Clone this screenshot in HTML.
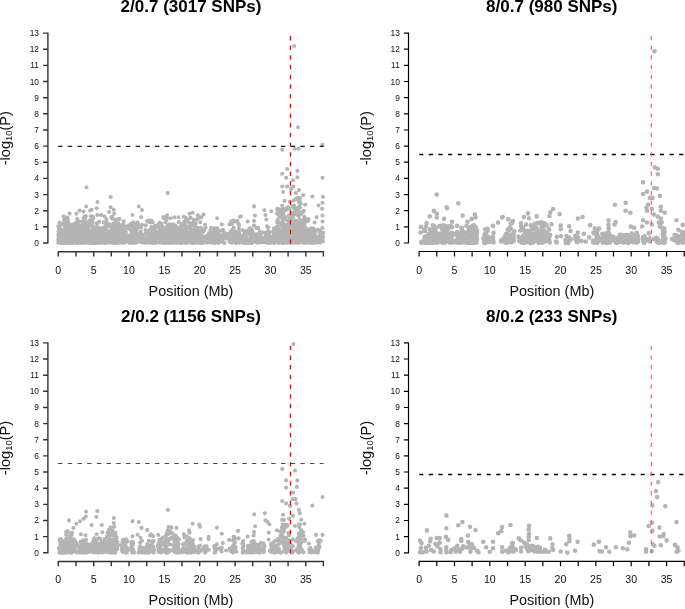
<!DOCTYPE html>
<html lang="en"><head><meta charset="utf-8"><title>Manhattan plots</title>
<style>
html,body{margin:0;padding:0;background:#fff}
body{width:685px;height:609px;overflow:hidden}
svg{display:block;will-change:transform}
text{font-family:"Liberation Sans",Arial,Helvetica,sans-serif;fill:#111}
.t{font-size:17px;font-weight:bold;text-anchor:middle;fill:#000}
.xl{font-size:10.6px;text-anchor:middle}
.yl{font-size:8.4px;text-anchor:end}
.al{font-size:14.4px;text-anchor:middle}
.ax{stroke:#333;stroke-width:1.4;fill:none}
.pt{stroke:#b4b4b4;stroke-width:4.1;stroke-linecap:round;fill:none}
</style></head><body>
<svg width="685" height="609" viewBox="0 0 685 609">
<rect width="685" height="609" fill="#fff"/>
<g transform="translate(0.0,0.0)">
<text class="t" x="191" y="12">2/0.7 (3017 SNPs)</text>
<path class="pt" d="M86.7 238.2h0M85.3 239.3h0M86.2 239.8h0M107.5 234.6h0M63.7 242.9h0M63.6 242.7h0M63.1 230.0h0M62.8 238.5h0M64.4 233.0h0M60.3 237.3h0M60.7 239.9h0M87.8 237.5h0M88.1 243.0h0M91.8 241.8h0M88.5 232.7h0M75.1 241.1h0M80.9 241.8h0M84.2 232.0h0M83.5 242.9h0M82.1 236.5h0M83.8 241.2h0M83.2 233.8h0M65.1 228.0h0M63.3 233.2h0M64.6 238.9h0M85.0 240.8h0M67.0 232.1h0M66.9 233.8h0M67.9 234.7h0M66.0 242.1h0M71.9 226.9h0M70.1 242.9h0M71.4 234.5h0M62.0 239.2h0M72.4 242.7h0M73.8 237.9h0M71.4 231.1h0M66.8 241.6h0M67.7 240.9h0M68.3 242.6h0M68.4 242.1h0M69.8 239.5h0M67.3 220.2h0M67.9 242.7h0M67.8 233.5h0M109.8 234.4h0M109.0 224.2h0M109.7 232.6h0M91.7 242.4h0M91.8 231.8h0M93.0 237.3h0M92.4 223.3h0M92.7 239.1h0M93.1 228.8h0M81.7 240.4h0M80.2 239.2h0M80.5 242.3h0M80.5 240.5h0M80.5 239.8h0M80.3 237.9h0M80.2 243.0h0M62.1 240.9h0M64.1 240.5h0M62.0 241.4h0M113.2 242.0h0M112.1 236.9h0M105.2 236.3h0M105.8 239.2h0M106.1 239.9h0M106.1 243.0h0M107.4 236.4h0M105.3 240.8h0M93.8 241.0h0M93.3 218.4h0M95.0 238.1h0M96.3 239.6h0M115.0 240.3h0M70.7 242.3h0M99.1 240.1h0M97.9 231.7h0M86.1 236.3h0M83.5 239.2h0M84.3 238.1h0M85.0 241.8h0M85.3 242.6h0M74.0 237.4h0M73.9 238.1h0M78.1 242.9h0M77.1 218.7h0M77.6 242.0h0M78.9 239.1h0M77.8 234.8h0M77.5 229.0h0M85.8 241.7h0M74.0 237.3h0M97.0 241.5h0M98.0 231.7h0M96.2 237.8h0M96.7 237.7h0M101.8 233.9h0M78.1 241.0h0M79.2 236.5h0M79.8 225.9h0M77.4 242.5h0M101.0 242.3h0M81.6 242.1h0M81.9 237.6h0M79.1 240.0h0M71.3 240.7h0M69.6 232.2h0M72.8 242.8h0M69.2 238.6h0M107.9 235.6h0M105.4 225.5h0M85.2 218.0h0M84.1 241.5h0M86.6 230.7h0M79.3 229.2h0M79.3 240.7h0M79.6 241.8h0M77.8 238.0h0M76.6 242.6h0M62.8 240.8h0M97.0 241.8h0M96.4 236.2h0M96.9 241.8h0M114.5 238.5h0M91.2 238.6h0M91.3 238.4h0M89.3 236.6h0M89.3 238.0h0M99.2 238.7h0M84.1 237.8h0M83.1 228.5h0M81.9 242.3h0M84.1 237.8h0M83.2 239.6h0M84.0 242.5h0M84.6 216.5h0M84.6 231.5h0M83.7 235.1h0M84.8 235.7h0M95.9 238.3h0M73.1 238.6h0M83.9 230.1h0M85.4 231.9h0M94.9 239.6h0M96.4 241.9h0M96.8 241.5h0M98.2 242.3h0M78.1 243.0h0M77.2 242.2h0M66.3 226.6h0M108.2 241.3h0M109.6 240.3h0M60.0 240.3h0M114.5 241.1h0M114.4 238.2h0M113.5 224.4h0M113.2 227.3h0M114.8 238.3h0M114.0 239.0h0M114.1 231.8h0M114.2 241.8h0M115.8 226.5h0M113.6 223.5h0M114.7 241.1h0M77.9 238.3h0M77.0 240.5h0M110.2 237.5h0M103.4 238.3h0M103.8 242.2h0M107.9 236.7h0M106.1 239.4h0M104.4 241.5h0M107.0 233.5h0M114.0 236.7h0M112.0 242.2h0M114.7 241.1h0M112.7 241.1h0M112.5 224.4h0M79.9 235.7h0M78.2 232.8h0M114.8 235.4h0M115.1 238.6h0M114.7 236.4h0M117.1 240.5h0M104.6 216.5h0M103.5 233.5h0M103.6 236.6h0M105.2 236.1h0M104.8 226.7h0M104.6 238.8h0M106.6 238.2h0M105.8 243.0h0M104.4 239.8h0M104.7 239.4h0M104.3 241.1h0M106.7 230.1h0M87.6 238.1h0M96.4 238.5h0M94.3 234.2h0M94.0 234.2h0M100.9 233.1h0M102.4 241.0h0M82.2 241.0h0M84.6 242.6h0M82.9 224.7h0M82.8 237.8h0M81.5 242.8h0M82.1 242.5h0M83.1 240.7h0M87.3 227.8h0M85.6 239.7h0M86.2 222.3h0M86.9 238.5h0M87.5 240.2h0M87.5 237.5h0M86.7 236.9h0M88.0 241.2h0M83.6 242.7h0M86.2 240.8h0M86.8 242.2h0M87.2 241.3h0M96.1 239.0h0M97.7 239.3h0M97.1 242.9h0M97.4 242.4h0M97.0 223.4h0M96.6 233.8h0M95.6 227.0h0M91.8 225.8h0M98.8 237.8h0M98.8 232.1h0M98.6 241.8h0M64.1 241.5h0M96.4 233.5h0M97.2 241.5h0M95.3 242.9h0M97.2 235.1h0M94.8 242.4h0M83.8 226.6h0M84.6 225.5h0M92.3 240.3h0M92.1 224.9h0M72.8 225.4h0M70.8 240.4h0M72.7 234.1h0M71.8 240.8h0M81.3 240.6h0M94.8 237.2h0M92.2 241.5h0M92.6 236.6h0M93.7 242.5h0M93.5 235.9h0M92.5 235.9h0M92.3 236.4h0M93.6 231.5h0M90.9 239.0h0M92.1 230.8h0M92.7 234.1h0M90.7 216.3h0M91.4 239.0h0M116.9 241.5h0M118.1 241.3h0M117.5 225.6h0M118.4 242.3h0M64.2 229.4h0M63.4 233.1h0M62.1 232.4h0M63.6 241.1h0M81.2 242.8h0M81.8 238.6h0M101.2 242.4h0M100.7 240.2h0M103.1 241.9h0M102.7 242.2h0M114.9 238.5h0M116.1 236.9h0M114.9 236.9h0M117.5 242.9h0M82.3 231.9h0M84.5 234.8h0M84.1 227.8h0M97.8 237.5h0M98.0 239.2h0M97.9 227.4h0M97.6 231.1h0M97.8 240.7h0M95.1 231.2h0M75.4 238.8h0M107.2 233.6h0M109.5 235.5h0M90.3 237.9h0M91.6 242.6h0M91.9 241.4h0M90.7 238.4h0M92.3 233.9h0M92.9 232.9h0M91.5 237.7h0M90.4 240.6h0M92.8 239.5h0M91.9 235.0h0M74.5 238.4h0M72.2 233.7h0M71.9 238.6h0M75.0 241.6h0M75.4 241.8h0M74.2 233.8h0M73.7 240.7h0M62.0 239.3h0M64.7 241.9h0M75.0 226.2h0M77.8 241.7h0M77.1 238.5h0M77.9 230.0h0M77.2 234.8h0M62.2 237.7h0M62.7 240.4h0M63.9 237.6h0M66.4 240.0h0M58.7 240.6h0M59.1 237.5h0M60.1 241.4h0M59.3 234.3h0M60.2 236.1h0M58.3 235.4h0M58.7 236.4h0M58.6 231.7h0M58.3 240.8h0M58.3 239.0h0M60.9 240.7h0M58.3 226.3h0M60.4 229.3h0M60.1 240.6h0M59.7 231.0h0M58.3 239.3h0M59.9 226.1h0M72.7 224.6h0M114.9 238.3h0M113.3 241.6h0M80.5 236.8h0M82.7 240.5h0M118.1 240.1h0M117.9 235.2h0M117.9 235.5h0M117.8 236.2h0M117.7 238.3h0M105.8 241.1h0M105.9 242.3h0M105.4 238.1h0M106.0 229.3h0M105.6 238.4h0M103.6 240.7h0M110.3 231.6h0M62.9 239.1h0M101.5 237.6h0M100.3 228.4h0M118.4 238.9h0M91.7 242.3h0M118.2 241.6h0M118.3 234.3h0M119.2 239.1h0M118.2 241.7h0M119.1 225.0h0M119.5 218.9h0M70.5 234.7h0M68.7 240.2h0M69.2 239.3h0M68.4 241.5h0M69.9 237.7h0M69.3 229.4h0M68.3 230.7h0M70.0 238.4h0M69.1 235.3h0M70.4 239.9h0M70.6 229.4h0M69.6 242.7h0M68.4 236.8h0M68.6 239.7h0M100.2 243.0h0M99.2 241.8h0M100.8 237.1h0M99.5 239.0h0M101.1 238.5h0M84.0 235.0h0M86.0 242.3h0M85.1 240.8h0M83.3 234.7h0M83.7 239.3h0M85.0 237.4h0M84.8 238.2h0M84.3 240.4h0M90.5 234.7h0M84.2 242.8h0M99.6 236.9h0M99.0 241.0h0M98.2 239.0h0M99.1 241.4h0M98.5 228.3h0M96.6 233.1h0M98.2 234.5h0M79.4 236.5h0M78.9 221.4h0M81.9 234.7h0M80.4 238.1h0M114.5 234.4h0M115.2 242.4h0M115.6 241.8h0M114.7 235.7h0M114.5 242.1h0M115.2 243.0h0M115.5 231.4h0M116.3 242.1h0M115.5 240.8h0M115.2 234.9h0M116.6 240.6h0M114.0 228.9h0M100.3 232.5h0M100.7 234.7h0M100.5 231.0h0M100.0 232.9h0M99.8 236.1h0M99.2 240.1h0M101.5 232.7h0M99.8 234.6h0M101.8 234.0h0M96.6 242.9h0M84.8 239.4h0M85.0 234.2h0M85.1 225.9h0M77.3 233.2h0M75.4 231.2h0M76.8 242.2h0M75.9 237.6h0M75.6 241.0h0M81.1 238.9h0M81.7 239.9h0M80.8 241.3h0M82.7 238.4h0M79.9 240.3h0M81.6 238.4h0M82.2 241.3h0M81.5 230.4h0M93.8 241.3h0M107.0 238.0h0M71.5 239.4h0M71.8 240.6h0M70.1 231.0h0M66.7 238.1h0M84.6 224.6h0M86.4 242.3h0M93.1 229.5h0M92.2 234.8h0M93.7 239.7h0M90.5 239.3h0M64.0 230.1h0M64.3 240.4h0M64.5 223.4h0M62.3 236.8h0M63.3 242.8h0M64.2 220.8h0M88.6 237.5h0M88.0 240.9h0M88.7 242.2h0M88.2 229.3h0M87.5 237.0h0M63.4 243.0h0M104.8 238.8h0M105.4 233.0h0M102.6 235.9h0M105.2 235.4h0M118.9 240.0h0M118.2 223.1h0M117.2 242.0h0M95.4 237.6h0M92.8 236.2h0M95.3 241.3h0M94.4 231.1h0M95.0 238.8h0M94.5 232.2h0M94.7 237.7h0M78.4 242.0h0M77.0 231.9h0M81.3 233.9h0M58.6 233.6h0M82.0 235.9h0M81.5 229.9h0M83.0 241.1h0M81.9 240.7h0M82.3 235.1h0M82.1 236.3h0M83.8 235.1h0M83.1 241.2h0M89.3 220.6h0M67.9 218.8h0M67.1 238.7h0M68.4 229.0h0M101.1 229.6h0M69.4 240.6h0M83.4 234.4h0M82.5 235.5h0M72.7 239.0h0M107.7 234.5h0M106.5 232.3h0M105.7 240.4h0M106.3 242.0h0M105.5 232.8h0M107.2 237.0h0M107.2 236.4h0M108.3 235.2h0M107.8 238.1h0M107.4 236.6h0M108.0 237.8h0M108.2 233.0h0M65.1 237.0h0M64.7 240.5h0M92.9 216.6h0M91.3 223.6h0M92.5 236.6h0M92.9 239.3h0M87.2 233.4h0M87.7 242.2h0M92.8 240.2h0M67.9 235.9h0M68.1 239.1h0M114.7 236.8h0M114.7 236.8h0M115.3 242.1h0M117.3 236.2h0M115.8 229.0h0M89.0 235.8h0M89.6 231.4h0M72.1 232.8h0M73.3 236.5h0M72.2 233.0h0M70.9 238.8h0M96.3 241.7h0M97.1 235.6h0M96.1 242.2h0M76.9 242.7h0M76.0 241.6h0M78.0 238.0h0M78.4 239.0h0M80.8 232.9h0M79.6 233.3h0M77.6 223.6h0M62.4 240.5h0M65.3 230.3h0M64.1 242.0h0M111.2 241.4h0M83.2 233.3h0M82.0 235.3h0M81.4 241.1h0M83.1 239.0h0M82.4 239.7h0M84.7 228.4h0M82.4 236.2h0M83.5 231.2h0M58.6 242.6h0M59.6 240.4h0M59.0 236.9h0M99.2 221.8h0M95.6 240.6h0M65.2 243.0h0M67.1 217.5h0M64.6 236.1h0M76.8 241.8h0M76.9 239.6h0M78.0 241.1h0M78.0 240.4h0M77.0 238.8h0M107.2 242.5h0M74.0 228.2h0M73.5 239.0h0M73.7 229.4h0M96.5 235.9h0M75.1 223.8h0M113.1 237.9h0M112.9 243.0h0M69.6 241.5h0M70.7 236.5h0M71.7 240.1h0M71.0 239.7h0M70.2 242.0h0M72.7 243.0h0M69.0 240.7h0M69.6 230.5h0M64.5 234.8h0M90.8 232.1h0M115.0 241.4h0M102.7 241.5h0M103.8 242.9h0M63.0 236.6h0M64.2 242.3h0M63.8 216.7h0M63.8 236.4h0M64.1 236.0h0M63.5 235.9h0M63.0 239.8h0M64.0 242.3h0M65.0 235.0h0M65.1 240.9h0M71.6 238.8h0M70.9 227.2h0M70.6 229.4h0M70.6 238.2h0M71.9 236.6h0M78.4 242.1h0M77.7 235.0h0M77.9 242.9h0M84.0 232.4h0M83.2 230.9h0M85.2 233.9h0M83.5 235.1h0M82.4 231.1h0M82.7 229.6h0M86.6 239.8h0M83.5 232.1h0M85.4 239.6h0M85.8 239.7h0M87.8 227.8h0M89.7 237.4h0M87.8 240.1h0M84.0 239.1h0M85.0 238.3h0M59.1 239.4h0M60.7 242.5h0M60.9 242.9h0M104.0 240.9h0M104.1 242.0h0M65.9 238.0h0M66.2 240.0h0M67.8 242.5h0M66.8 238.3h0M64.6 243.0h0M67.7 240.6h0M66.7 233.3h0M66.4 238.6h0M65.1 242.0h0M66.3 239.9h0M66.7 224.7h0M64.5 238.0h0M65.5 233.0h0M66.6 241.2h0M90.0 241.4h0M92.2 226.9h0M92.4 219.8h0M90.7 241.7h0M93.2 228.0h0M92.1 241.9h0M92.5 239.6h0M92.0 242.9h0M70.7 242.1h0M70.8 240.2h0M70.3 237.1h0M58.7 234.0h0M60.4 239.5h0M101.5 237.7h0M67.2 242.6h0M96.4 240.4h0M98.2 240.9h0M79.8 239.8h0M80.5 237.0h0M107.1 242.6h0M108.5 235.6h0M100.4 242.0h0M75.4 240.3h0M73.7 236.4h0M76.3 240.9h0M74.9 223.7h0M75.1 236.9h0M75.5 242.7h0M77.1 240.2h0M76.1 228.8h0M77.1 242.2h0M76.1 235.5h0M109.1 239.3h0M107.8 242.2h0M108.1 226.0h0M107.6 240.7h0M108.9 240.2h0M107.1 242.6h0M61.3 237.7h0M59.0 234.9h0M60.5 240.2h0M58.3 242.8h0M117.2 241.7h0M117.8 243.0h0M61.2 236.6h0M62.0 242.9h0M70.5 229.4h0M69.8 225.6h0M69.4 239.7h0M68.4 241.5h0M67.7 240.8h0M68.5 237.7h0M58.8 242.6h0M59.4 235.7h0M59.1 238.6h0M58.8 241.3h0M59.2 234.6h0M58.8 239.0h0M66.2 238.3h0M76.2 222.6h0M77.1 232.3h0M75.1 237.5h0M76.5 241.9h0M77.6 229.9h0M118.4 236.7h0M115.9 242.7h0M116.1 236.8h0M59.6 240.6h0M66.5 218.1h0M68.4 242.8h0M68.3 239.9h0M109.5 233.6h0M65.3 235.2h0M63.8 242.2h0M65.2 242.6h0M64.1 242.3h0M64.6 236.5h0M64.6 233.5h0M66.5 236.0h0M64.1 235.8h0M84.9 221.9h0M84.6 238.5h0M91.3 232.5h0M92.3 234.9h0M88.2 241.0h0M85.9 239.3h0M118.0 239.4h0M116.2 239.5h0M94.7 238.1h0M92.6 222.4h0M63.8 233.8h0M107.3 234.2h0M106.0 240.3h0M63.9 235.0h0M62.8 241.6h0M63.8 222.9h0M62.2 241.1h0M64.7 238.8h0M63.9 242.5h0M63.4 242.5h0M63.3 241.0h0M63.4 240.9h0M63.4 236.9h0M62.4 242.4h0M61.1 224.8h0M63.7 241.0h0M80.3 237.2h0M81.9 240.8h0M63.2 241.7h0M99.2 234.8h0M99.1 242.7h0M96.9 232.1h0M82.8 241.8h0M84.9 237.7h0M84.8 218.7h0M83.6 238.0h0M82.7 240.4h0M83.1 230.4h0M82.8 239.2h0M82.1 230.3h0M82.7 235.6h0M81.0 236.4h0M92.6 235.8h0M92.3 242.9h0M92.7 235.2h0M93.0 233.6h0M92.6 240.8h0M92.6 223.7h0M108.1 240.7h0M107.3 238.9h0M118.1 237.5h0M117.0 241.0h0M117.7 227.0h0M117.0 219.5h0M119.3 240.5h0M116.6 235.3h0M117.1 229.8h0M119.1 241.5h0M63.8 232.3h0M64.6 239.5h0M65.3 228.2h0M64.4 242.3h0M63.0 242.4h0M101.6 234.3h0M99.8 241.9h0M102.5 238.6h0M73.9 233.4h0M74.4 233.9h0M76.4 238.3h0M112.6 239.5h0M90.0 238.6h0M90.3 241.2h0M89.6 233.5h0M93.4 235.9h0M106.9 237.4h0M81.8 239.0h0M80.4 235.6h0M81.1 227.5h0M83.1 242.6h0M98.6 239.0h0M65.3 234.8h0M65.8 240.2h0M65.3 224.1h0M66.8 242.9h0M65.8 240.3h0M66.6 238.4h0M64.3 225.0h0M65.0 238.5h0M65.5 235.7h0M65.0 240.5h0M65.6 236.9h0M65.2 238.0h0M65.6 238.9h0M66.7 228.9h0M76.4 240.5h0M78.9 242.6h0M113.6 242.5h0M115.6 239.3h0M114.7 240.4h0M113.6 242.5h0M113.7 225.8h0M112.3 218.8h0M64.8 242.7h0M65.3 241.7h0M65.1 240.4h0M63.9 241.1h0M64.9 241.5h0M65.4 241.4h0M65.1 242.8h0M108.5 241.2h0M109.7 233.6h0M93.2 237.5h0M95.1 232.8h0M94.3 229.7h0M73.3 241.3h0M73.4 240.0h0M74.7 233.4h0M74.5 232.8h0M73.7 234.6h0M77.6 238.7h0M76.9 225.2h0M78.4 232.3h0M77.7 236.8h0M117.2 242.9h0M119.5 236.3h0M66.7 241.4h0M65.7 236.2h0M66.3 240.9h0M67.7 237.8h0M66.6 238.1h0M81.3 242.4h0M68.7 242.5h0M77.5 229.3h0M78.6 231.4h0M76.9 229.0h0M78.3 240.8h0M77.4 242.6h0M78.2 228.1h0M79.3 233.9h0M79.4 231.2h0M79.0 235.6h0M61.5 238.5h0M61.7 238.7h0M90.6 225.4h0M92.4 232.5h0M93.5 241.1h0M93.2 242.4h0M92.3 235.2h0M92.8 241.4h0M93.9 239.5h0M109.6 231.4h0M112.1 217.0h0M103.8 222.2h0M105.0 240.9h0M71.6 232.4h0M106.3 231.1h0M106.0 234.7h0M107.6 239.6h0M80.9 239.7h0M80.4 242.1h0M94.4 238.7h0M92.8 242.4h0M72.7 241.9h0M72.9 238.3h0M72.1 242.9h0M72.4 240.7h0M73.0 232.8h0M72.0 242.6h0M72.2 234.2h0M73.6 235.6h0M73.3 238.9h0M87.6 238.1h0M88.5 233.8h0M87.4 237.6h0M87.9 226.1h0M87.5 239.9h0M88.5 242.8h0M88.3 225.7h0M89.5 241.4h0M72.8 242.3h0M71.9 238.2h0M71.5 242.6h0M73.1 238.0h0M71.8 241.8h0M72.6 238.2h0M79.5 241.5h0M119.5 240.3h0M118.2 241.5h0M116.4 241.4h0M118.6 234.6h0M119.3 233.1h0M118.0 238.3h0M117.7 235.5h0M118.1 242.3h0M113.8 223.8h0M114.8 242.9h0M114.6 242.0h0M114.8 240.4h0M104.9 239.7h0M105.4 223.1h0M105.4 242.0h0M104.6 242.1h0M102.8 239.0h0M105.6 238.0h0M103.9 236.3h0M104.3 230.2h0M104.6 241.4h0M104.6 241.2h0M105.7 240.4h0M103.6 233.9h0M104.3 231.3h0M98.5 242.5h0M97.4 242.4h0M97.1 239.6h0M99.9 242.7h0M105.2 238.0h0M106.5 219.6h0M109.2 233.3h0M111.0 231.7h0M110.1 235.2h0M62.2 235.7h0M89.7 236.7h0M89.6 232.9h0M88.0 228.2h0M90.7 237.1h0M89.7 238.9h0M88.9 239.9h0M92.2 233.3h0M89.6 238.7h0M91.5 231.3h0M104.9 229.7h0M91.5 235.0h0M103.5 240.6h0M104.0 227.3h0M105.2 237.8h0M106.8 222.8h0M62.1 240.4h0M83.8 240.9h0M83.3 240.3h0M82.6 240.6h0M82.6 228.6h0M83.8 224.6h0M82.4 227.2h0M83.8 237.9h0M93.5 242.9h0M94.6 232.4h0M111.5 236.8h0M109.4 233.5h0M112.1 241.4h0M100.7 237.4h0M102.1 234.9h0M95.7 237.5h0M97.7 237.8h0M110.4 242.8h0M113.2 241.3h0M82.7 240.7h0M81.9 242.6h0M81.9 237.2h0M81.6 240.0h0M69.5 235.5h0M71.4 240.6h0M73.0 241.1h0M72.1 233.5h0M71.5 236.5h0M118.3 242.4h0M62.7 236.4h0M60.4 239.3h0M61.6 241.0h0M92.0 240.6h0M92.9 241.3h0M92.4 235.1h0M92.1 233.9h0M90.6 238.1h0M93.4 242.2h0M93.9 240.1h0M75.4 239.5h0M76.1 237.6h0M73.1 239.1h0M75.4 242.7h0M74.9 224.9h0M77.8 240.4h0M77.0 233.9h0M75.8 235.8h0M76.4 236.1h0M98.2 234.8h0M111.4 228.0h0M111.9 225.8h0M111.8 233.7h0M109.9 238.0h0M111.3 241.6h0M111.2 241.9h0M111.7 240.5h0M112.7 235.4h0M111.8 237.8h0M76.9 241.5h0M76.2 242.9h0M71.3 239.6h0M66.9 237.1h0M68.3 241.7h0M68.6 230.6h0M66.7 235.7h0M67.3 242.1h0M66.8 242.0h0M67.6 232.7h0M68.3 240.7h0M68.8 223.6h0M67.8 241.8h0M91.6 235.7h0M91.5 242.9h0M89.9 223.6h0M63.4 240.5h0M68.3 235.1h0M85.5 238.9h0M86.2 233.2h0M76.7 234.8h0M95.6 237.7h0M90.6 242.2h0M89.4 240.1h0M99.1 236.8h0M99.6 237.7h0M101.1 238.5h0M91.2 216.3h0M90.3 234.6h0M92.3 239.7h0M91.0 234.2h0M91.4 241.7h0M101.6 240.9h0M99.0 238.8h0M100.1 242.1h0M101.9 241.7h0M62.7 242.8h0M90.7 238.4h0M93.0 242.9h0M93.9 229.6h0M83.3 227.6h0M80.0 237.2h0M81.2 241.1h0M81.0 230.7h0M85.8 240.2h0M86.7 238.7h0M87.5 235.4h0M85.4 232.4h0M85.9 240.1h0M86.6 241.1h0M86.9 235.3h0M117.6 233.6h0M117.3 241.6h0M116.3 222.9h0M58.9 229.2h0M60.4 230.3h0M60.6 237.8h0M61.2 233.5h0M60.2 241.7h0M67.9 221.0h0M68.1 239.0h0M68.2 233.3h0M70.7 240.6h0M70.2 234.0h0M69.4 242.4h0M69.4 231.2h0M72.4 241.8h0M71.9 240.2h0M94.0 240.7h0M96.2 238.0h0M81.7 221.8h0M84.2 236.1h0M82.1 235.2h0M67.8 238.1h0M67.0 238.1h0M67.4 233.0h0M121.8 225.1h0M123.1 231.3h0M122.8 237.7h0M123.7 240.9h0M133.6 222.2h0M134.9 230.2h0M134.2 242.1h0M134.4 241.8h0M131.7 227.7h0M131.3 227.7h0M132.0 231.7h0M131.1 230.5h0M131.0 238.6h0M131.1 239.0h0M131.8 238.2h0M130.6 239.6h0M123.7 242.2h0M122.3 238.7h0M137.9 236.3h0M133.1 234.2h0M131.7 234.4h0M133.8 231.2h0M132.5 236.5h0M135.4 227.7h0M133.2 242.9h0M134.4 235.9h0M129.7 242.2h0M129.8 243.0h0M130.6 241.8h0M130.2 229.4h0M129.6 236.6h0M131.1 241.3h0M131.3 223.5h0M131.0 235.1h0M131.0 239.5h0M131.9 241.9h0M140.0 235.9h0M133.7 238.9h0M125.6 235.2h0M124.5 240.7h0M124.5 232.8h0M123.3 241.9h0M124.9 242.5h0M124.0 236.5h0M125.1 234.8h0M124.7 240.4h0M123.7 229.8h0M125.2 231.8h0M122.4 239.6h0M124.9 236.8h0M125.0 231.1h0M124.6 240.2h0M123.6 242.8h0M125.1 237.5h0M136.2 238.8h0M136.6 227.7h0M135.3 239.9h0M136.7 230.2h0M120.5 228.6h0M119.0 235.5h0M119.4 228.1h0M133.7 239.2h0M132.1 242.0h0M131.8 234.2h0M130.6 241.2h0M133.1 233.6h0M132.1 239.4h0M130.0 239.5h0M129.7 240.3h0M131.2 234.3h0M128.3 241.5h0M126.8 237.9h0M129.7 236.5h0M129.2 236.6h0M128.9 225.2h0M133.6 239.4h0M135.5 234.4h0M133.5 232.2h0M120.8 237.9h0M119.7 242.2h0M119.7 241.0h0M120.6 232.2h0M119.9 237.3h0M119.1 242.5h0M119.2 235.3h0M122.2 240.0h0M122.2 237.7h0M123.4 231.9h0M121.1 239.5h0M121.3 242.4h0M123.5 224.7h0M125.4 239.6h0M122.3 235.0h0M123.1 241.4h0M118.7 229.2h0M118.7 242.0h0M119.3 233.2h0M131.2 241.1h0M131.7 235.4h0M127.6 228.0h0M126.7 226.5h0M128.6 238.1h0M129.2 239.9h0M127.7 239.5h0M128.8 228.6h0M132.3 239.5h0M132.5 242.1h0M134.4 240.0h0M126.6 236.0h0M126.3 235.7h0M135.8 240.3h0M137.0 239.9h0M135.7 233.3h0M136.3 241.4h0M136.9 242.4h0M125.7 239.8h0M125.7 242.2h0M120.9 242.1h0M125.7 231.8h0M126.1 234.0h0M135.0 239.9h0M135.7 225.1h0M136.0 241.4h0M130.3 235.0h0M120.2 235.7h0M120.7 242.4h0M136.7 228.5h0M137.0 238.9h0M136.5 226.7h0M122.6 239.2h0M123.4 242.2h0M138.1 241.2h0M137.9 240.2h0M139.3 236.8h0M139.7 238.4h0M138.4 239.1h0M133.9 226.3h0M135.5 230.2h0M135.5 242.7h0M134.9 237.6h0M136.2 239.0h0M135.0 235.3h0M138.0 238.8h0M138.0 224.3h0M137.5 233.7h0M136.6 240.2h0M135.2 236.8h0M129.1 240.2h0M121.5 231.6h0M132.7 241.7h0M130.1 236.2h0M131.0 242.8h0M124.2 241.6h0M123.3 228.2h0M122.5 230.3h0M123.0 242.3h0M124.7 237.8h0M121.8 240.7h0M123.0 241.2h0M127.2 237.5h0M128.2 240.3h0M133.2 236.3h0M133.5 235.8h0M118.7 241.8h0M141.0 236.0h0M139.9 239.3h0M152.5 230.8h0M152.2 241.1h0M143.1 241.4h0M143.5 234.9h0M143.3 241.2h0M143.0 237.4h0M144.1 241.4h0M144.8 242.4h0M150.2 242.6h0M149.9 231.7h0M151.0 241.5h0M149.1 237.3h0M149.1 241.8h0M148.3 242.2h0M148.0 242.0h0M148.2 234.2h0M148.5 234.4h0M146.6 239.4h0M152.8 233.1h0M150.5 222.1h0M150.8 236.8h0M147.0 240.2h0M147.4 235.3h0M146.9 234.5h0M147.2 234.5h0M141.1 242.1h0M145.0 238.5h0M145.4 241.3h0M147.9 235.5h0M147.9 241.4h0M146.8 241.7h0M152.4 238.6h0M152.0 239.2h0M151.2 241.9h0M152.6 222.3h0M149.1 221.9h0M149.6 237.8h0M149.2 230.3h0M149.5 241.0h0M146.2 232.5h0M148.7 240.8h0M148.0 233.9h0M145.8 225.4h0M152.1 238.5h0M150.9 237.8h0M149.9 242.1h0M150.5 242.5h0M141.2 227.5h0M142.8 235.3h0M144.6 242.6h0M146.2 242.5h0M153.2 237.5h0M153.8 239.9h0M152.4 242.9h0M152.5 234.8h0M153.5 232.0h0M153.1 240.8h0M152.1 241.3h0M153.6 227.0h0M153.7 241.0h0M152.9 241.1h0M153.2 238.5h0M153.9 240.1h0M153.4 229.5h0M154.8 242.8h0M154.1 242.7h0M154.6 242.6h0M154.8 241.8h0M153.2 241.6h0M153.6 240.8h0M151.9 221.0h0M153.4 238.0h0M152.6 242.2h0M153.0 240.2h0M152.0 240.1h0M151.7 239.9h0M139.8 240.7h0M140.9 231.9h0M139.6 237.4h0M140.1 227.4h0M139.6 236.5h0M140.6 232.4h0M141.3 236.8h0M149.8 242.0h0M149.8 239.5h0M149.8 235.7h0M148.7 235.4h0M151.1 222.5h0M150.5 240.3h0M151.1 239.5h0M149.2 241.5h0M154.8 239.6h0M153.8 239.9h0M154.7 235.9h0M152.9 241.7h0M152.0 239.3h0M152.0 241.9h0M149.2 236.5h0M151.5 235.1h0M149.4 236.5h0M153.4 233.9h0M150.9 234.7h0M150.7 236.5h0M152.0 237.0h0M151.9 241.5h0M149.7 231.6h0M153.2 238.6h0M151.1 234.6h0M151.2 242.2h0M150.8 238.5h0M152.1 233.7h0M150.7 235.6h0M143.8 241.2h0M143.5 242.0h0M142.7 240.9h0M144.3 241.0h0M144.0 241.8h0M145.4 230.0h0M147.9 239.5h0M149.6 238.3h0M149.8 233.8h0M154.8 233.5h0M154.8 232.3h0M143.5 242.3h0M145.3 242.9h0M145.7 233.4h0M150.5 239.2h0M141.2 240.7h0M147.3 241.4h0M141.0 237.3h0M139.5 240.5h0M141.6 242.5h0M140.8 240.3h0M141.6 240.5h0M141.5 235.2h0M140.7 236.8h0M146.2 234.2h0M152.9 231.4h0M151.9 242.7h0M150.5 230.3h0M150.6 221.9h0M149.8 242.7h0M149.9 234.5h0M150.8 229.6h0M151.4 238.0h0M150.0 242.6h0M151.2 234.9h0M151.3 227.0h0M149.8 239.5h0M151.0 240.5h0M150.6 232.8h0M150.1 240.8h0M154.1 242.8h0M157.4 236.0h0M157.6 242.3h0M158.3 242.1h0M158.0 235.7h0M158.3 231.8h0M158.1 237.1h0M156.7 226.6h0M156.8 238.6h0M154.9 241.6h0M154.1 233.1h0M157.0 238.6h0M155.9 240.6h0M157.2 232.5h0M155.4 231.7h0M155.1 238.8h0M154.9 236.9h0M155.2 242.5h0M154.9 241.9h0M155.4 242.9h0M154.4 242.6h0M155.1 228.5h0M155.1 225.6h0M155.5 237.8h0M162.1 229.1h0M164.1 239.9h0M164.2 241.4h0M163.5 234.6h0M164.2 218.0h0M165.5 241.5h0M163.6 238.0h0M200.7 232.3h0M198.4 235.5h0M201.4 237.8h0M200.4 242.9h0M199.7 242.0h0M200.9 242.8h0M193.4 239.6h0M192.4 223.7h0M191.8 238.2h0M190.7 229.5h0M192.5 237.6h0M192.6 225.3h0M191.3 240.9h0M198.1 237.3h0M198.7 239.1h0M177.3 237.5h0M161.7 229.1h0M196.5 242.0h0M195.5 234.0h0M195.8 241.8h0M184.7 231.7h0M184.7 237.1h0M186.1 239.3h0M183.0 233.5h0M158.3 231.9h0M161.3 231.9h0M160.3 241.5h0M198.0 239.1h0M170.6 234.1h0M168.5 239.5h0M168.9 233.5h0M199.4 242.2h0M196.6 239.2h0M199.8 233.5h0M197.5 227.7h0M159.2 233.0h0M161.1 229.3h0M160.7 241.0h0M172.1 241.7h0M169.8 242.9h0M184.9 235.1h0M184.9 236.2h0M185.1 239.9h0M185.4 242.0h0M185.6 217.9h0M185.1 236.0h0M184.1 238.8h0M186.4 238.4h0M184.8 240.3h0M182.9 232.9h0M184.3 242.2h0M184.3 242.6h0M170.5 230.9h0M171.3 241.3h0M172.0 234.0h0M167.7 225.3h0M181.3 239.7h0M179.1 234.5h0M178.7 232.2h0M180.4 240.8h0M184.0 241.2h0M184.1 234.3h0M184.2 240.8h0M185.6 240.7h0M185.8 242.9h0M187.0 238.1h0M186.2 236.3h0M184.9 225.9h0M186.1 240.7h0M185.0 239.6h0M185.1 240.9h0M183.9 239.5h0M186.5 226.2h0M186.1 240.2h0M186.9 242.8h0M179.2 238.3h0M174.9 240.6h0M165.4 243.0h0M167.3 242.8h0M166.8 242.3h0M178.1 235.8h0M178.7 237.3h0M178.9 238.7h0M178.3 237.7h0M182.7 242.7h0M182.9 239.4h0M183.2 242.0h0M184.5 221.5h0M182.8 234.3h0M164.5 237.2h0M177.2 237.8h0M178.6 241.4h0M177.6 242.8h0M182.5 233.4h0M182.9 240.3h0M168.8 233.7h0M170.4 236.6h0M169.0 239.2h0M168.6 238.9h0M169.6 242.6h0M169.7 242.9h0M158.3 241.6h0M171.1 241.8h0M159.9 222.5h0M173.8 241.9h0M172.2 239.3h0M173.6 233.0h0M174.4 227.5h0M176.0 231.7h0M180.1 233.9h0M180.2 233.0h0M180.4 231.3h0M179.2 232.6h0M180.5 240.4h0M185.7 243.0h0M184.9 237.5h0M184.3 225.7h0M184.9 239.9h0M185.1 225.6h0M183.1 233.6h0M194.1 243.0h0M194.3 239.7h0M177.9 241.3h0M176.8 233.2h0M178.5 228.6h0M180.9 238.9h0M169.5 242.6h0M171.7 237.4h0M171.2 236.6h0M170.0 228.4h0M169.9 240.4h0M169.3 234.9h0M170.2 236.4h0M170.9 241.2h0M172.1 238.3h0M164.8 233.4h0M164.2 239.4h0M165.1 237.1h0M164.4 241.3h0M182.4 238.0h0M170.6 240.9h0M169.3 230.0h0M187.0 242.3h0M202.8 240.8h0M202.2 241.1h0M160.8 241.2h0M191.6 239.5h0M182.0 224.1h0M165.8 239.8h0M166.0 239.0h0M166.0 241.8h0M181.7 242.9h0M183.2 240.4h0M181.0 238.8h0M182.4 240.1h0M182.8 233.2h0M181.5 239.5h0M181.7 237.1h0M168.4 235.0h0M167.2 234.9h0M177.5 241.1h0M177.4 241.5h0M190.4 240.0h0M191.6 234.9h0M191.8 238.9h0M190.5 238.4h0M191.2 234.0h0M191.4 237.8h0M191.8 242.3h0M191.2 242.8h0M191.5 242.1h0M190.6 224.2h0M190.7 240.2h0M197.9 230.9h0M195.4 236.2h0M195.8 238.1h0M196.2 240.2h0M195.1 229.3h0M195.8 239.2h0M185.2 236.9h0M186.3 239.0h0M184.4 242.1h0M185.3 238.8h0M186.2 240.3h0M187.6 237.7h0M186.2 231.9h0M185.6 241.9h0M184.2 238.8h0M185.5 237.6h0M186.6 235.7h0M185.1 233.4h0M185.3 228.0h0M186.6 240.9h0M176.7 239.5h0M176.1 242.3h0M175.9 235.6h0M176.9 242.7h0M175.9 240.3h0M177.1 229.9h0M177.8 236.3h0M175.0 236.6h0M175.8 226.4h0M194.3 242.8h0M193.6 242.1h0M192.2 236.8h0M189.3 239.3h0M191.2 235.2h0M190.8 239.7h0M191.9 224.8h0M190.5 237.0h0M179.9 240.2h0M179.9 232.8h0M179.6 242.7h0M179.6 237.4h0M180.2 242.7h0M181.1 235.6h0M168.1 225.3h0M167.2 235.2h0M169.0 240.4h0M187.9 222.0h0M166.4 227.8h0M166.8 217.4h0M182.3 240.8h0M182.4 225.2h0M182.8 234.5h0M182.9 241.3h0M181.0 236.1h0M159.2 236.4h0M159.5 237.1h0M158.9 238.7h0M159.5 242.5h0M159.6 242.6h0M160.4 240.8h0M185.6 230.6h0M185.0 240.3h0M159.1 227.7h0M160.0 234.2h0M192.9 234.3h0M193.9 223.3h0M193.9 219.8h0M200.1 238.7h0M201.6 240.3h0M203.0 239.5h0M202.8 236.7h0M201.7 240.0h0M201.5 232.0h0M201.2 238.5h0M160.6 240.7h0M166.9 240.8h0M165.6 241.2h0M201.3 217.3h0M203.4 237.7h0M170.3 238.2h0M168.6 240.4h0M171.6 242.5h0M186.9 238.3h0M185.8 231.6h0M186.6 241.4h0M180.4 240.0h0M165.1 231.0h0M165.3 230.4h0M166.2 233.7h0M166.5 220.6h0M166.8 239.9h0M165.9 242.7h0M165.7 237.0h0M164.2 240.0h0M166.8 237.6h0M166.2 234.7h0M159.7 241.0h0M160.8 240.9h0M160.9 230.8h0M161.6 239.8h0M160.2 240.8h0M161.6 236.8h0M197.3 232.7h0M198.7 241.8h0M198.0 240.5h0M168.1 235.0h0M167.5 242.7h0M168.0 240.8h0M167.6 241.1h0M167.5 241.9h0M202.9 239.0h0M203.9 240.0h0M203.3 241.7h0M202.6 242.8h0M201.5 237.6h0M201.3 241.3h0M203.0 239.3h0M203.3 242.2h0M198.1 218.1h0M197.3 242.7h0M182.9 241.1h0M184.3 237.2h0M184.8 232.3h0M183.5 240.8h0M184.2 222.7h0M183.7 241.7h0M192.6 234.1h0M179.5 237.4h0M178.7 222.1h0M158.4 224.4h0M158.6 238.9h0M158.5 232.5h0M165.0 236.0h0M164.0 234.0h0M185.2 240.9h0M167.2 238.6h0M165.7 242.4h0M169.0 235.8h0M170.1 228.6h0M170.4 240.0h0M170.6 236.3h0M199.5 235.0h0M200.2 222.3h0M201.8 234.5h0M201.5 242.9h0M199.2 237.4h0M203.6 237.8h0M188.5 240.3h0M161.2 225.8h0M195.2 226.2h0M193.7 241.2h0M192.6 239.8h0M194.2 239.0h0M194.5 225.4h0M194.7 237.1h0M193.7 221.8h0M196.4 241.1h0M194.5 242.4h0M168.4 239.2h0M167.4 229.2h0M168.6 240.5h0M175.2 237.0h0M174.7 235.7h0M176.2 231.6h0M178.5 238.3h0M160.1 232.1h0M184.7 240.5h0M186.5 237.4h0M166.5 239.7h0M167.6 232.4h0M178.0 237.5h0M202.7 239.9h0M165.6 239.5h0M168.4 241.5h0M195.5 234.8h0M184.7 232.8h0M184.7 232.9h0M185.8 239.2h0M162.1 242.7h0M163.4 239.7h0M163.9 236.3h0M161.4 224.1h0M162.6 233.1h0M163.0 237.9h0M162.1 232.7h0M198.8 235.7h0M200.5 241.0h0M200.6 240.9h0M199.6 235.7h0M200.9 227.7h0M201.3 240.7h0M200.4 241.5h0M186.6 240.8h0M185.0 240.4h0M184.1 242.4h0M184.4 238.8h0M184.7 238.6h0M186.2 231.4h0M185.2 238.2h0M184.9 239.8h0M159.4 239.6h0M175.8 240.4h0M176.3 242.8h0M177.3 239.6h0M176.9 239.6h0M183.1 237.2h0M181.1 241.5h0M180.4 243.0h0M159.8 232.8h0M195.8 242.2h0M196.7 240.7h0M193.9 242.4h0M194.6 226.2h0M196.4 239.6h0M195.4 241.0h0M195.4 242.3h0M196.4 241.4h0M201.8 242.7h0M190.3 226.9h0M165.2 229.6h0M161.6 241.6h0M162.8 242.9h0M162.7 235.9h0M160.3 242.0h0M193.2 235.5h0M191.4 223.4h0M193.7 225.5h0M192.1 229.7h0M164.9 241.3h0M165.4 222.2h0M166.6 240.7h0M167.5 234.9h0M167.4 236.8h0M174.5 242.7h0M187.7 228.5h0M186.5 241.8h0M186.5 239.4h0M185.6 242.7h0M185.8 229.1h0M186.8 238.9h0M187.3 232.5h0M186.9 242.2h0M163.0 238.4h0M160.5 239.7h0M160.2 228.6h0M160.2 234.1h0M160.5 237.4h0M159.3 242.5h0M173.0 232.0h0M173.3 232.1h0M165.9 241.7h0M165.3 237.7h0M185.4 236.7h0M190.6 234.3h0M173.7 239.1h0M159.8 241.7h0M190.1 228.8h0M189.8 238.3h0M190.3 241.7h0M190.5 217.8h0M188.0 235.4h0M189.4 235.6h0M189.6 228.6h0M197.9 241.8h0M163.7 232.4h0M163.2 240.6h0M194.8 242.8h0M193.1 232.6h0M159.9 237.9h0M162.4 241.6h0M157.7 233.1h0M203.8 242.7h0M203.4 241.4h0M203.2 242.5h0M170.3 238.7h0M170.6 242.4h0M171.8 241.7h0M170.3 230.8h0M172.8 235.6h0M172.7 242.8h0M195.6 223.5h0M195.4 234.4h0M163.9 239.2h0M163.0 238.9h0M192.9 242.9h0M192.2 225.2h0M201.6 230.7h0M200.8 228.7h0M198.3 242.1h0M202.4 239.0h0M200.6 236.3h0M172.8 224.2h0M170.2 239.1h0M172.2 242.2h0M171.8 241.3h0M172.2 237.2h0M171.6 241.5h0M162.0 242.7h0M161.3 239.8h0M162.7 236.7h0M161.9 234.4h0M182.9 241.9h0M180.8 242.8h0M180.7 226.2h0M179.4 236.7h0M180.5 242.3h0M175.1 225.4h0M183.9 237.1h0M182.2 230.0h0M159.4 238.2h0M159.5 236.8h0M160.5 232.7h0M160.1 241.4h0M171.8 241.1h0M172.8 226.5h0M182.7 235.7h0M184.8 239.7h0M184.2 238.9h0M184.0 239.5h0M177.5 233.9h0M167.1 232.8h0M167.8 239.7h0M167.8 242.1h0M194.7 233.8h0M192.2 236.2h0M195.6 239.9h0M186.6 226.2h0M186.6 239.8h0M188.7 242.3h0M188.7 226.8h0M188.1 236.0h0M200.2 235.7h0M199.4 241.4h0M170.4 218.2h0M170.7 235.8h0M172.3 234.0h0M171.4 243.0h0M183.8 236.4h0M185.2 233.9h0M184.9 240.4h0M185.7 225.9h0M165.0 240.2h0M163.3 240.9h0M163.7 238.4h0M160.5 228.2h0M173.9 228.2h0M174.2 242.6h0M203.7 242.1h0M203.7 229.6h0M201.8 242.5h0M201.3 241.8h0M202.6 242.5h0M204.3 242.3h0M204.3 241.3h0M203.0 240.5h0M178.5 217.2h0M176.9 237.4h0M178.4 237.9h0M199.9 232.5h0M200.4 242.5h0M199.1 237.1h0M201.0 235.0h0M200.8 234.6h0M168.4 242.3h0M166.7 227.8h0M167.8 241.4h0M168.9 240.9h0M202.0 241.6h0M203.2 238.4h0M202.7 241.7h0M201.9 230.0h0M204.3 241.6h0M203.8 231.3h0M204.3 230.3h0M163.9 239.7h0M166.2 232.2h0M166.8 241.7h0M165.5 240.5h0M183.1 237.3h0M182.7 241.8h0M183.6 235.0h0M183.5 242.2h0M183.1 240.7h0M184.0 239.3h0M183.0 236.8h0M184.9 238.0h0M195.5 230.3h0M168.7 236.2h0M168.6 236.3h0M169.6 233.0h0M167.1 240.9h0M167.6 240.1h0M169.8 224.4h0M178.4 240.4h0M179.9 236.6h0M181.6 229.1h0M181.3 233.9h0M182.7 242.1h0M181.6 242.7h0M181.6 240.9h0M181.0 238.2h0M200.8 239.8h0M200.7 230.9h0M200.9 240.3h0M193.2 236.0h0M168.8 242.7h0M169.8 241.3h0M170.5 228.5h0M168.9 236.1h0M170.6 237.4h0M170.2 237.8h0M170.9 230.4h0M169.6 230.9h0M169.3 236.7h0M168.8 238.0h0M176.6 238.1h0M176.7 233.3h0M175.9 241.1h0M176.3 242.7h0M191.6 240.8h0M192.1 231.6h0M191.2 233.7h0M198.5 242.8h0M198.7 235.1h0M197.8 239.1h0M188.7 236.0h0M187.4 241.0h0M187.1 242.4h0M168.1 238.7h0M200.3 238.3h0M198.7 234.3h0M200.3 241.7h0M200.7 238.9h0M201.5 238.7h0M199.6 239.3h0M177.5 242.3h0M176.7 240.3h0M176.2 236.9h0M178.4 240.4h0M175.9 242.4h0M177.1 242.2h0M176.3 240.6h0M177.3 240.2h0M162.1 230.4h0M163.7 234.5h0M162.4 239.0h0M198.4 239.9h0M197.7 237.0h0M196.7 240.0h0M198.1 242.4h0M199.9 242.4h0M167.6 230.9h0M185.4 238.6h0M184.7 241.2h0M185.8 240.7h0M189.1 227.7h0M190.7 225.4h0M189.1 232.8h0M190.8 242.7h0M190.2 237.7h0M191.5 242.8h0M164.5 235.5h0M163.4 237.3h0M163.4 242.5h0M163.7 227.2h0M163.9 238.6h0M163.7 235.1h0M165.0 241.8h0M163.7 218.2h0M164.3 236.0h0M207.7 235.9h0M217.8 237.7h0M219.1 231.1h0M216.5 237.4h0M217.2 232.2h0M218.3 234.6h0M215.0 232.1h0M215.6 238.8h0M219.7 237.1h0M207.3 242.6h0M205.7 227.7h0M206.2 236.1h0M229.7 242.0h0M230.1 240.5h0M229.7 241.8h0M217.3 240.6h0M216.3 238.4h0M218.7 241.8h0M218.5 242.2h0M217.4 238.1h0M218.8 234.6h0M216.6 241.1h0M217.2 240.1h0M211.5 237.0h0M218.3 242.9h0M217.4 238.4h0M218.3 239.8h0M218.7 239.3h0M217.8 236.3h0M231.0 233.0h0M230.6 240.9h0M224.2 232.6h0M223.4 239.1h0M217.5 239.8h0M220.1 240.4h0M217.7 239.0h0M218.0 242.6h0M219.1 234.7h0M210.9 240.0h0M211.7 242.1h0M211.9 239.4h0M211.6 238.2h0M210.0 236.7h0M217.9 237.6h0M218.3 242.1h0M219.3 234.6h0M218.1 234.6h0M220.5 238.4h0M219.0 237.0h0M218.6 242.3h0M218.7 237.9h0M227.1 238.7h0M214.9 239.0h0M214.8 237.5h0M215.4 233.8h0M214.9 235.9h0M215.9 240.1h0M217.3 234.9h0M216.7 233.9h0M214.9 240.7h0M215.4 234.7h0M230.5 240.4h0M211.7 235.8h0M210.3 238.7h0M211.0 240.0h0M211.4 239.1h0M218.6 237.9h0M220.6 236.7h0M217.6 236.7h0M220.4 238.6h0M218.9 241.2h0M218.3 240.1h0M218.5 233.6h0M213.8 240.9h0M228.4 235.0h0M230.4 242.1h0M229.8 241.4h0M230.4 240.8h0M230.5 240.0h0M205.4 238.6h0M206.4 236.5h0M206.7 242.2h0M223.4 242.6h0M211.1 227.9h0M209.9 233.2h0M211.0 236.1h0M210.6 242.5h0M214.4 241.3h0M213.1 241.7h0M214.3 237.3h0M214.8 228.3h0M214.5 239.6h0M213.3 242.6h0M215.1 228.7h0M221.6 237.8h0M221.9 241.8h0M220.7 240.9h0M219.2 234.6h0M220.8 240.0h0M218.7 234.4h0M220.9 236.2h0M206.2 237.0h0M214.3 242.9h0M215.6 235.8h0M215.1 233.2h0M213.5 228.7h0M213.6 240.3h0M213.6 233.4h0M211.3 241.2h0M213.0 242.4h0M214.1 233.3h0M211.4 237.4h0M226.7 235.6h0M225.5 236.2h0M224.5 243.0h0M206.1 237.8h0M205.0 241.0h0M207.7 242.0h0M206.8 236.7h0M206.3 238.2h0M205.0 241.2h0M215.4 230.3h0M216.1 242.0h0M215.8 240.5h0M217.0 239.1h0M216.2 236.9h0M216.9 242.2h0M217.8 240.5h0M222.4 230.2h0M223.5 238.5h0M223.8 236.6h0M223.5 232.5h0M221.8 237.7h0M221.4 239.2h0M222.1 235.8h0M222.8 231.3h0M208.1 242.0h0M208.1 236.0h0M209.2 242.1h0M210.6 241.9h0M207.5 240.3h0M210.4 230.5h0M210.2 240.9h0M208.6 240.1h0M208.9 233.4h0M227.3 234.1h0M211.4 241.2h0M212.8 232.1h0M212.0 236.1h0M212.0 241.0h0M212.8 238.6h0M231.8 242.6h0M233.0 240.9h0M234.7 239.8h0M235.4 241.2h0M234.6 240.7h0M233.7 235.3h0M236.2 241.4h0M234.3 238.7h0M235.7 242.6h0M234.2 237.3h0M235.5 238.4h0M234.5 238.9h0M233.1 241.8h0M234.2 231.0h0M234.4 236.7h0M233.7 227.9h0M239.0 225.5h0M238.0 235.0h0M239.0 236.1h0M239.5 236.0h0M238.9 228.8h0M239.3 242.7h0M238.5 237.4h0M238.9 235.9h0M238.6 240.9h0M239.2 242.5h0M237.6 241.6h0M237.5 238.6h0M237.8 236.0h0M239.0 225.0h0M234.8 241.7h0M234.7 221.5h0M234.4 234.6h0M234.9 232.7h0M233.9 242.1h0M234.0 238.2h0M231.8 230.8h0M233.8 241.9h0M234.2 238.2h0M233.5 220.6h0M234.6 239.8h0M234.9 238.2h0M234.0 240.6h0M235.3 242.2h0M237.6 241.5h0M234.9 240.3h0M235.4 231.6h0M234.7 241.8h0M234.8 233.9h0M238.8 241.7h0M232.4 240.3h0M234.1 240.7h0M233.6 230.4h0M234.6 233.1h0M233.4 236.8h0M231.3 230.8h0M230.5 237.3h0M233.8 238.2h0M232.1 229.9h0M233.2 240.9h0M236.5 238.8h0M237.5 239.1h0M231.5 240.1h0M231.9 224.3h0M239.5 239.8h0M238.8 232.3h0M238.7 238.5h0M236.0 242.9h0M235.8 240.3h0M238.3 223.7h0M239.3 233.8h0M236.9 242.5h0M238.7 242.1h0M230.5 232.0h0M231.2 221.4h0M240.4 240.3h0M233.0 241.1h0M233.6 239.0h0M233.5 241.4h0M234.2 239.7h0M231.4 237.6h0M234.7 240.9h0M234.5 239.8h0M234.8 233.5h0M274.3 233.8h0M274.1 241.2h0M275.7 239.0h0M274.4 240.0h0M275.2 231.1h0M275.5 238.5h0M274.0 233.8h0M273.8 230.5h0M274.7 233.5h0M275.5 238.0h0M275.0 230.7h0M274.8 237.7h0M274.6 240.1h0M275.1 239.0h0M273.8 238.4h0M273.8 233.8h0M274.0 240.4h0M274.4 240.0h0M273.9 242.9h0M274.7 238.8h0M273.8 242.6h0M273.4 240.7h0M273.6 237.2h0M274.0 232.1h0M267.9 242.8h0M246.6 238.6h0M246.9 235.0h0M251.7 237.2h0M251.1 234.6h0M252.2 230.2h0M250.8 235.7h0M252.7 232.7h0M253.0 234.5h0M251.8 233.8h0M252.8 238.8h0M249.4 241.7h0M251.4 234.3h0M251.2 241.7h0M250.8 242.9h0M251.5 232.1h0M252.0 242.9h0M252.7 240.6h0M251.6 232.2h0M251.4 240.1h0M251.8 240.2h0M263.8 242.3h0M251.4 239.7h0M250.0 239.7h0M245.5 239.9h0M244.0 242.8h0M246.0 235.8h0M244.0 243.0h0M245.5 239.4h0M245.4 242.9h0M256.3 235.9h0M252.4 242.1h0M275.7 230.3h0M275.7 237.6h0M274.5 241.3h0M275.3 232.4h0M275.7 239.7h0M273.8 228.2h0M275.7 233.0h0M273.1 240.2h0M275.4 229.0h0M273.5 231.9h0M275.7 235.8h0M275.7 240.5h0M245.7 239.3h0M246.8 242.6h0M246.4 230.9h0M247.3 240.5h0M243.4 240.6h0M242.5 240.0h0M244.0 236.0h0M242.8 242.1h0M242.7 235.9h0M245.0 236.7h0M270.1 242.9h0M270.8 236.6h0M268.3 240.7h0M269.1 236.4h0M269.1 239.7h0M252.1 241.1h0M252.7 241.6h0M253.2 235.8h0M252.2 232.0h0M252.0 242.8h0M269.7 237.5h0M259.6 241.8h0M261.1 237.5h0M261.3 237.7h0M259.9 231.2h0M260.1 234.1h0M258.8 233.8h0M243.7 242.3h0M257.3 241.3h0M257.4 234.3h0M256.8 240.5h0M256.0 234.4h0M249.3 228.6h0M249.9 239.9h0M274.5 238.1h0M275.3 234.2h0M274.3 234.7h0M240.9 242.4h0M256.2 235.7h0M257.0 238.3h0M256.5 236.4h0M258.0 227.9h0M258.5 242.2h0M255.9 237.3h0M256.4 228.1h0M255.1 241.5h0M267.0 240.5h0M267.9 238.7h0M264.8 237.7h0M266.9 242.6h0M267.1 238.7h0M265.9 237.1h0M267.8 236.6h0M265.3 236.0h0M250.6 238.4h0M250.1 240.2h0M252.3 240.4h0M251.3 240.8h0M271.0 239.7h0M267.9 231.3h0M248.4 242.5h0M247.2 241.7h0M247.9 243.0h0M257.7 242.0h0M257.6 242.0h0M257.8 242.5h0M256.6 242.6h0M258.5 239.5h0M274.2 238.3h0M275.0 242.0h0M273.4 232.4h0M274.3 229.6h0M246.3 233.9h0M248.8 232.6h0M266.3 236.8h0M267.0 226.3h0M265.5 232.8h0M266.0 241.5h0M265.0 240.0h0M266.3 240.9h0M268.3 227.6h0M265.0 240.9h0M266.6 233.4h0M244.6 232.8h0M267.6 241.0h0M268.7 239.3h0M269.6 231.8h0M269.2 237.7h0M269.3 235.1h0M260.5 234.7h0M259.7 242.5h0M261.2 242.2h0M258.7 236.4h0M262.3 232.5h0M260.3 238.9h0M262.6 240.2h0M260.8 237.0h0M254.6 237.0h0M241.8 238.8h0M242.5 239.3h0M241.3 237.5h0M243.6 242.4h0M242.7 230.3h0M241.2 240.5h0M244.2 234.2h0M242.4 240.1h0M243.6 240.1h0M258.3 238.8h0M259.3 237.7h0M258.7 239.8h0M260.2 242.4h0M243.6 240.7h0M244.9 239.8h0M241.6 239.4h0M242.1 239.4h0M252.1 238.8h0M250.9 240.6h0M252.4 241.7h0M252.5 233.1h0M250.6 228.2h0M243.9 241.0h0M243.5 237.2h0M243.6 237.9h0M248.7 239.2h0M244.0 242.8h0M249.1 242.8h0M284.5 233.2h0M283.1 242.9h0M283.2 242.8h0M283.1 240.0h0M283.3 234.6h0M286.8 225.8h0M286.4 230.7h0M284.2 239.5h0M282.7 222.8h0M287.0 241.6h0M287.5 234.9h0M286.9 230.7h0M288.3 239.1h0M282.2 238.4h0M283.6 242.9h0M284.6 228.3h0M285.0 217.6h0M286.0 231.6h0M283.6 236.3h0M284.2 217.2h0M284.1 234.3h0M284.0 227.0h0M284.1 238.9h0M283.7 219.1h0M283.5 242.3h0M277.6 242.0h0M278.9 237.9h0M279.7 238.1h0M275.5 233.5h0M285.8 239.5h0M283.7 242.5h0M282.1 238.9h0M284.4 238.5h0M283.7 220.3h0M282.8 242.6h0M279.9 242.2h0M282.4 237.3h0M280.5 242.2h0M279.8 239.0h0M281.5 238.8h0M281.3 233.4h0M289.1 232.4h0M277.7 227.3h0M277.4 240.2h0M278.1 240.6h0M276.8 239.4h0M279.7 242.0h0M278.4 230.5h0M282.2 241.8h0M280.2 230.0h0M281.7 231.7h0M279.3 242.4h0M281.3 242.2h0M278.6 226.3h0M281.3 230.7h0M281.9 235.6h0M280.9 236.6h0M278.8 236.8h0M279.5 239.7h0M277.6 235.6h0M280.5 239.5h0M285.6 240.9h0M282.5 238.6h0M283.3 240.1h0M285.3 240.0h0M275.9 236.8h0M279.7 226.1h0M277.0 222.3h0M278.8 238.0h0M277.9 239.7h0M276.9 226.5h0M279.2 232.7h0M279.1 242.9h0M279.0 242.5h0M279.2 230.0h0M282.2 241.8h0M284.4 224.5h0M283.4 241.0h0M276.9 241.4h0M275.0 241.3h0M276.2 238.7h0M283.2 237.3h0M280.9 239.9h0M283.1 242.8h0M288.6 238.1h0M288.5 241.3h0M288.3 242.0h0M287.5 242.8h0M287.1 236.3h0M281.6 240.4h0M281.2 238.1h0M280.0 237.4h0M281.6 242.4h0M288.3 241.2h0M276.6 239.2h0M276.6 240.4h0M276.2 236.5h0M278.3 242.6h0M284.5 241.0h0M282.3 236.6h0M283.1 223.8h0M287.6 236.1h0M287.0 229.7h0M286.7 237.4h0M285.2 231.2h0M282.9 242.9h0M284.9 235.6h0M284.2 231.8h0M286.3 235.5h0M308.5 219.1h0M308.1 234.0h0M308.2 240.7h0M308.8 235.0h0M308.9 234.6h0M290.7 242.5h0M294.1 223.7h0M294.1 225.0h0M295.6 242.4h0M294.9 224.7h0M296.4 242.3h0M296.1 241.8h0M295.4 230.1h0M295.4 239.0h0M296.2 233.3h0M295.4 227.7h0M304.2 238.3h0M304.0 231.3h0M296.3 240.8h0M295.6 233.4h0M297.2 242.6h0M295.8 236.0h0M295.6 239.2h0M302.9 241.3h0M302.1 235.0h0M302.3 236.6h0M306.3 231.3h0M299.0 240.7h0M298.2 239.4h0M300.2 234.1h0M300.5 238.2h0M308.2 219.9h0M306.8 238.8h0M307.8 240.2h0M308.9 242.5h0M308.9 237.7h0M307.4 238.6h0M297.0 235.4h0M297.1 237.2h0M294.5 239.5h0M294.6 222.6h0M295.4 242.0h0M294.8 241.9h0M304.8 223.5h0M305.5 240.9h0M304.5 237.3h0M303.7 226.2h0M303.7 223.3h0M299.7 230.9h0M301.5 225.6h0M300.5 241.0h0M301.6 237.2h0M302.6 225.5h0M301.2 228.8h0M300.2 234.6h0M297.6 242.2h0M297.7 237.0h0M297.6 239.3h0M301.5 232.1h0M299.6 239.8h0M298.8 234.3h0M298.5 243.0h0M299.5 236.3h0M298.6 241.8h0M299.0 225.8h0M299.3 232.9h0M298.3 220.8h0M297.6 235.9h0M300.8 235.3h0M298.9 241.0h0M298.3 242.8h0M299.1 241.3h0M304.2 239.2h0M305.5 239.2h0M305.3 237.9h0M304.5 236.1h0M303.8 239.8h0M307.1 236.9h0M306.1 238.5h0M306.2 236.0h0M306.6 242.5h0M305.2 242.2h0M307.9 238.3h0M308.7 239.3h0M305.3 242.7h0M306.2 229.8h0M307.3 242.1h0M305.4 239.4h0M306.1 242.2h0M305.4 237.4h0M306.4 235.3h0M307.6 239.9h0M308.0 221.1h0M307.3 236.4h0M308.1 232.4h0M293.7 240.7h0M293.7 227.0h0M305.9 236.1h0M307.1 236.0h0M289.8 237.2h0M300.0 229.8h0M305.1 234.3h0M307.5 237.3h0M306.2 234.1h0M306.5 233.7h0M298.0 241.3h0M298.7 233.3h0M297.7 242.2h0M294.4 237.7h0M293.7 242.6h0M294.5 242.2h0M292.6 228.0h0M293.5 238.8h0M293.9 233.4h0M292.7 241.7h0M294.1 241.1h0M299.9 239.4h0M298.2 241.4h0M305.8 228.4h0M304.5 239.8h0M306.0 242.2h0M304.4 224.7h0M304.8 221.8h0M301.4 223.8h0M299.9 235.6h0M304.6 237.4h0M306.4 241.6h0M302.9 242.7h0M304.7 223.2h0M301.2 233.6h0M299.8 229.1h0M299.5 235.7h0M307.6 231.9h0M302.7 241.1h0M301.6 236.8h0M304.1 231.5h0M296.1 237.7h0M295.0 229.7h0M300.9 236.8h0M301.6 239.5h0M302.3 228.2h0M301.8 240.4h0M302.4 240.9h0M301.1 235.7h0M289.8 237.6h0M290.3 234.0h0M289.4 229.4h0M288.9 238.8h0M290.9 235.1h0M290.5 241.2h0M290.5 230.8h0M291.7 230.5h0M289.9 241.6h0M291.3 238.2h0M290.3 236.8h0M289.8 241.0h0M289.9 241.8h0M290.7 241.8h0M290.2 231.6h0M291.0 242.9h0M291.3 242.9h0M290.1 228.0h0M313.9 241.0h0M313.8 238.8h0M314.3 230.1h0M314.0 234.5h0M313.7 242.8h0M314.5 237.1h0M313.3 238.9h0M313.9 242.4h0M312.6 242.7h0M313.2 242.7h0M314.3 238.1h0M312.9 236.5h0M312.7 240.0h0M313.8 236.5h0M315.4 239.0h0M313.2 240.5h0M312.3 240.8h0M313.2 235.4h0M312.3 239.2h0M312.1 239.0h0M313.4 241.1h0M313.5 228.5h0M313.6 238.4h0M313.7 231.9h0M315.1 237.4h0M320.6 240.5h0M314.1 229.9h0M313.4 235.3h0M314.8 234.5h0M314.6 241.0h0M314.4 236.0h0M315.0 235.9h0M313.6 235.9h0M313.7 237.7h0M314.2 238.6h0M322.4 235.8h0M319.7 234.1h0M320.0 234.6h0M320.8 238.2h0M320.6 237.3h0M319.3 232.0h0M320.1 242.3h0M321.3 234.8h0M312.8 242.7h0M314.0 235.9h0M316.0 237.1h0M318.0 229.7h0M317.3 240.5h0M322.0 241.0h0M320.6 238.4h0M319.9 242.8h0M315.3 237.9h0M317.1 240.6h0M316.2 241.1h0M314.9 232.2h0M315.4 240.9h0M315.0 230.9h0M316.2 242.8h0M318.2 239.4h0M313.6 242.9h0M311.5 240.1h0M312.1 229.8h0M308.8 242.8h0M309.4 239.7h0M308.6 231.6h0M308.4 242.5h0M310.5 241.3h0M308.7 229.6h0M308.2 235.6h0M320.1 230.6h0M313.4 232.1h0M309.8 230.9h0M310.5 236.6h0M311.1 228.2h0M310.0 237.7h0M312.0 231.5h0M310.4 230.4h0M310.9 241.1h0M310.4 241.2h0M320.2 240.0h0M321.4 237.9h0M319.7 233.8h0M318.0 236.9h0M312.9 237.1h0M312.3 239.5h0M313.1 228.9h0M312.9 234.0h0M311.9 243.0h0M312.4 242.3h0M311.2 239.3h0M310.1 238.8h0M314.9 239.2h0M315.7 241.4h0M317.2 239.5h0M311.3 230.3h0M312.6 236.1h0M310.4 235.1h0M323.0 236.9h0M322.4 228.0h0M321.7 233.3h0M314.6 242.5h0M312.7 241.7h0M321.8 241.5h0M322.6 240.8h0M320.9 240.1h0M322.9 241.4h0M323.4 233.0h0M321.8 232.9h0M322.2 239.7h0M322.4 239.6h0M295.8 242.6h0M285.7 209.9h0M302.1 229.5h0M298.2 224.9h0M293.3 241.8h0M280.6 240.1h0M304.7 242.9h0M296.8 210.5h0M297.8 208.2h0M284.4 238.2h0M296.3 225.4h0M287.5 224.3h0M299.5 239.8h0M295.8 220.8h0M300.7 203.9h0M294.1 237.1h0M286.1 236.4h0M284.4 241.0h0M293.8 208.6h0M299.4 202.5h0M279.0 210.5h0M278.1 242.8h0M304.6 243.0h0M286.1 233.2h0M289.3 208.7h0M277.5 220.1h0M301.5 235.6h0M276.2 230.2h0M305.1 227.5h0M288.1 207.3h0M291.1 225.5h0M277.8 210.9h0M294.4 237.0h0M287.7 220.4h0M296.0 229.8h0M284.8 209.2h0M298.8 206.8h0M283.5 216.0h0M302.1 233.0h0M298.8 221.8h0M299.8 238.1h0M291.8 237.6h0M283.1 221.4h0M302.4 238.8h0M289.7 217.1h0M283.6 231.6h0M279.2 242.2h0M297.6 238.4h0M302.9 235.2h0M299.9 221.8h0M296.0 199.1h0M291.6 226.8h0M289.4 228.5h0M283.4 217.7h0M294.3 237.5h0M290.2 239.2h0M287.0 208.1h0M278.9 241.4h0M304.8 217.8h0M285.8 241.2h0M296.2 214.5h0M293.1 217.5h0M298.9 202.0h0M306.0 241.0h0M297.9 210.7h0M302.2 222.7h0M304.3 219.7h0M294.3 205.7h0M280.3 224.9h0M286.9 243.0h0M288.9 232.7h0M295.3 238.2h0M292.8 215.4h0M279.7 211.0h0M300.3 220.1h0M281.7 230.3h0M298.1 224.0h0M283.3 215.2h0M306.8 234.0h0M303.2 240.9h0M282.6 243.0h0M285.4 208.8h0M277.1 234.2h0M300.1 198.1h0M282.2 236.4h0M278.7 222.8h0M301.0 222.6h0M279.0 233.4h0M287.2 227.3h0M279.0 241.8h0M298.6 225.0h0M290.5 216.6h0M277.9 229.3h0M281.1 233.7h0M280.0 230.7h0M279.5 237.8h0M294.2 212.9h0M295.2 231.5h0M300.6 212.3h0M300.3 226.0h0M278.2 236.7h0M296.3 226.9h0M296.6 242.8h0M292.7 225.2h0M305.3 238.0h0M280.6 235.1h0M279.0 209.3h0M301.3 236.9h0M291.8 220.4h0M284.7 216.7h0M284.7 225.2h0M294.4 207.5h0M290.7 214.7h0M294.5 229.7h0M279.2 217.0h0M296.5 228.2h0M300.4 214.5h0M277.0 213.8h0M282.5 209.4h0M300.8 229.1h0M288.7 215.9h0M292.6 226.1h0M283.2 240.7h0M299.3 229.7h0M307.8 237.2h0M282.7 237.0h0M292.3 226.7h0M303.1 225.3h0M295.2 230.4h0M281.8 214.8h0M279.1 214.0h0M277.4 232.5h0M303.9 240.7h0M293.8 200.6h0M286.2 242.1h0M291.6 240.2h0M298.6 207.2h0M289.9 222.3h0M288.9 237.0h0M280.3 223.0h0M284.2 241.5h0M286.9 238.5h0M298.6 199.5h0M289.0 227.9h0M292.6 206.2h0M297.3 240.0h0M285.3 227.4h0M282.3 231.7h0M285.9 228.2h0M301.8 213.3h0M303.1 211.8h0M306.2 230.3h0M304.3 216.6h0M304.5 242.9h0M295.9 233.1h0M305.8 230.3h0M282.8 226.7h0M284.6 218.6h0M289.5 218.8h0M304.4 241.2h0M291.3 212.9h0M286.7 241.5h0M284.4 236.4h0M282.4 218.9h0M279.4 222.5h0M300.5 241.9h0M276.7 227.8h0M297.2 226.2h0M290.8 241.0h0M284.3 231.2h0M86.5 187.2h0M110.6 197.0h0M97.4 202.1h0M86.1 206.5h0M96.7 208.2h0M110.6 207.2h0M113.8 209.7h0M138.8 206.5h0M142.0 210.1h0M79.6 210.6h0M83.6 211.6h0M90.1 210.6h0M91.6 209.7h0M69.7 213.5h0M76.3 213.8h0M132.5 215.0h0M141.2 217.0h0M123.7 221.4h0M109.1 212.0h0M63.4 216.4h0M97.4 215.0h0M101.1 215.0h0M137.6 222.6h0M147.1 221.1h0M114.2 213.8h0M64.6 218.2h0M59.5 222.8h0M59.5 229.1h0M85.8 216.0h0M92.3 218.2h0M83.6 218.2h0M111.3 217.4h0M115.0 219.6h0M131.8 224.7h0M127.4 226.2h0M142.0 224.7h0M167.7 193.1h0M149.5 220.4h0M147.3 221.1h0M163.4 217.0h0M167.0 215.3h0M174.3 217.4h0M183.8 216.7h0M189.6 213.8h0M192.6 212.8h0M197.7 215.3h0M203.5 214.5h0M200.6 217.4h0M196.9 219.6h0M188.2 219.6h0M217.1 218.2h0M205.0 224.7h0M221.8 224.3h0M229.3 224.3h0M237.1 221.1h0M240.0 216.7h0M223.2 229.9h0M217.4 228.4h0M229.1 233.5h0M282.2 149.7h0M294.6 148.7h0M298.5 148.7h0M322.5 144.8h0M287.1 169.0h0M282.2 173.7h0M297.3 170.9h0M286.1 177.8h0M297.3 177.2h0M293.0 180.2h0M282.2 186.5h0M287.1 186.5h0M293.4 186.5h0M291.0 189.1h0M283.1 192.0h0M298.9 190.0h0M295.9 193.0h0M303.2 195.0h0M297.9 197.9h0M312.3 196.5h0M322.5 177.8h0M322.9 196.9h0M284.5 200.9h0M299.9 201.9h0M290.0 201.9h0M305.2 204.8h0M322.5 202.8h0M318.6 205.4h0M322.1 208.7h0M316.6 217.2h0M322.5 215.6h0M322.5 221.5h0M314.6 222.5h0M254.0 206.4h0M264.4 210.3h0M271.3 211.3h0M240.8 216.2h0M255.0 215.6h0M265.4 215.0h0M266.4 219.6h0M254.0 220.9h0M237.5 220.9h0M247.7 221.5h0M254.0 225.5h0M277.2 208.7h0M282.2 205.8h0M279.2 210.7h0M287.1 208.7h0M277.2 213.7h0M283.1 212.7h0M299.9 207.8h0M298.9 212.7h0M303.8 210.7h0M298.9 216.6h0M303.8 219.6h0M294.1 46.0h0M298.0 127.2h0"/>
<line x1="58.1" x2="323.7" y1="146.35" y2="146.35" stroke="#1c1c1c" stroke-width="1.1" stroke-dasharray="4.4 5.29"/>
<line x1="290.5" x2="290.5" y1="35.9" y2="243.5" stroke="#ff0000" stroke-width="1.3" stroke-dasharray="4.5 5.19"/>
<path class="ax" d="M47.9 32.5V243.6M43.1 243.0H47.9M43.1 226.8H47.9M43.1 210.7H47.9M43.1 194.6H47.9M43.1 178.4H47.9M43.1 162.2H47.9M43.1 146.1H47.9M43.1 130.0H47.9M43.1 113.8H47.9M43.1 97.7H47.9M43.1 81.5H47.9M43.1 65.4H47.9M43.1 49.2H47.9M43.1 33.1H47.9"/>
<text class="yl" x="39" y="246.0">0</text>
<text class="yl" x="39" y="229.8">1</text>
<text class="yl" x="39" y="213.7">2</text>
<text class="yl" x="39" y="197.6">3</text>
<text class="yl" x="39" y="181.4">4</text>
<text class="yl" x="39" y="165.2">5</text>
<text class="yl" x="39" y="149.1">6</text>
<text class="yl" x="39" y="133.0">7</text>
<text class="yl" x="39" y="116.8">8</text>
<text class="yl" x="39" y="100.7">9</text>
<text class="yl" x="39" y="84.5">10</text>
<text class="yl" x="39" y="68.4">11</text>
<text class="yl" x="39" y="52.2">12</text>
<text class="yl" x="39" y="36.1">13</text>
<path class="ax" d="M57.7 251.7H324.0M58.3 251.7V256.4M76.0 251.7V256.4M93.7 251.7V256.4M111.3 251.7V256.4M129.0 251.7V256.4M146.7 251.7V256.4M164.4 251.7V256.4M182.0 251.7V256.4M199.7 251.7V256.4M217.4 251.7V256.4M235.1 251.7V256.4M252.7 251.7V256.4M270.4 251.7V256.4M288.1 251.7V256.4M305.8 251.7V256.4M323.4 251.7V256.4"/>
<text class="xl" x="58.3" y="273.5">0</text>
<text class="xl" x="93.7" y="273.5">5</text>
<text class="xl" x="129.0" y="273.5">10</text>
<text class="xl" x="164.4" y="273.5">15</text>
<text class="xl" x="199.7" y="273.5">20</text>
<text class="xl" x="235.1" y="273.5">25</text>
<text class="xl" x="270.4" y="273.5">30</text>
<text class="xl" x="305.8" y="273.5">35</text>
<text class="al" x="191" y="295.6">Position (Mb)</text>
<text class="al" style="font-size:14.6px" transform="translate(10.1,138.2) rotate(-90)">-log<tspan font-size="9.4" dy="2.2">10</tspan><tspan dy="-2.2">(P)</tspan></text>
</g>
<g transform="translate(360.8,0.0)">
<text class="t" x="191" y="12">8/0.7 (980 SNPs)</text>
<path class="pt" style="stroke-width:4.6" d="M112.0 239.3h0M111.5 237.0h0M111.4 231.4h0M111.7 237.3h0M111.9 225.8h0M112.5 240.6h0M111.0 240.8h0M112.1 235.8h0M112.9 239.3h0M112.2 240.1h0M110.4 235.9h0M110.4 241.1h0M80.3 225.8h0M80.1 237.8h0M80.5 237.4h0M79.7 239.9h0M69.7 231.6h0M67.6 234.0h0M91.7 234.3h0M92.7 234.7h0M92.2 233.5h0M91.2 227.3h0M92.3 241.7h0M91.0 232.9h0M90.5 239.3h0M112.4 242.8h0M64.5 240.4h0M63.4 242.8h0M63.8 238.7h0M113.6 235.6h0M115.9 231.5h0M115.2 237.6h0M115.8 242.6h0M116.3 232.2h0M116.0 230.6h0M91.0 233.4h0M89.1 237.3h0M91.1 235.5h0M91.4 242.2h0M89.6 240.4h0M89.5 241.7h0M91.0 239.9h0M72.4 238.9h0M74.0 238.8h0M105.8 238.9h0M106.3 242.7h0M107.5 238.7h0M73.6 237.7h0M72.1 236.2h0M73.5 241.3h0M74.1 231.8h0M99.2 237.4h0M83.4 240.4h0M89.4 238.5h0M89.7 225.8h0M91.6 242.1h0M90.7 241.2h0M97.0 234.4h0M97.4 234.6h0M98.3 242.7h0M97.3 236.9h0M106.3 238.9h0M105.7 226.0h0M106.2 232.3h0M74.5 237.6h0M74.8 228.2h0M74.1 241.9h0M74.5 233.5h0M75.1 242.9h0M74.4 239.8h0M76.0 234.0h0M75.1 235.9h0M69.2 236.5h0M68.9 240.3h0M68.2 242.4h0M68.5 240.0h0M69.2 242.4h0M69.9 231.1h0M69.2 229.2h0M68.4 240.8h0M85.2 241.6h0M85.7 239.5h0M85.7 228.9h0M85.9 226.3h0M86.6 237.0h0M77.4 238.6h0M78.2 235.9h0M77.2 240.0h0M77.7 234.8h0M108.0 242.9h0M110.1 241.2h0M110.1 241.7h0M110.3 240.7h0M109.8 241.1h0M109.1 236.7h0M109.5 234.9h0M108.4 239.3h0M110.2 236.8h0M109.6 240.2h0M110.2 237.3h0M110.2 239.1h0M110.7 242.8h0M108.6 237.0h0M109.4 239.5h0M111.3 240.1h0M83.1 241.8h0M82.1 236.4h0M82.0 242.8h0M101.2 230.5h0M100.9 239.4h0M102.3 238.3h0M101.8 238.7h0M101.6 237.8h0M68.4 234.8h0M67.3 239.5h0M67.4 238.6h0M68.4 242.8h0M68.8 233.8h0M74.7 234.4h0M75.6 242.7h0M77.2 239.1h0M110.6 240.4h0M114.2 242.8h0M114.0 227.6h0M113.1 225.4h0M112.7 241.4h0M112.6 239.8h0M86.9 239.1h0M89.7 242.1h0M71.0 240.8h0M72.3 230.8h0M71.7 232.3h0M72.1 229.3h0M71.5 242.8h0M72.4 241.1h0M91.9 241.4h0M91.6 241.4h0M91.6 235.7h0M91.1 242.3h0M82.8 225.4h0M82.7 239.6h0M84.1 241.7h0M83.5 241.4h0M84.4 229.4h0M83.8 242.8h0M83.9 239.6h0M82.5 241.5h0M89.6 239.3h0M90.4 241.8h0M88.7 233.7h0M88.2 240.7h0M112.5 228.6h0M112.6 231.9h0M113.2 238.1h0M114.4 226.8h0M113.1 233.2h0M112.2 237.5h0M114.3 230.1h0M112.7 239.3h0M113.1 242.9h0M113.4 229.8h0M90.3 241.1h0M91.2 242.5h0M91.5 233.7h0M91.4 241.3h0M90.7 235.4h0M64.0 236.6h0M65.4 240.2h0M64.4 230.7h0M110.0 241.9h0M109.4 227.3h0M108.2 240.8h0M109.4 242.7h0M108.2 242.6h0M108.1 229.4h0M108.0 234.5h0M108.4 242.7h0M109.1 239.8h0M108.5 242.6h0M108.5 236.6h0M109.2 236.6h0M78.0 235.4h0M76.2 242.5h0M103.7 241.8h0M103.6 239.5h0M104.0 232.6h0M104.4 242.2h0M103.6 233.2h0M65.1 242.5h0M64.8 242.8h0M64.5 242.9h0M63.5 229.6h0M100.8 238.7h0M100.2 239.3h0M101.0 236.1h0M100.7 234.9h0M101.0 227.9h0M100.5 227.9h0M84.2 240.2h0M84.6 235.3h0M83.3 237.5h0M83.9 240.8h0M83.4 241.1h0M83.4 242.3h0M84.4 238.2h0M83.8 241.2h0M84.6 241.8h0M105.0 239.9h0M106.9 240.8h0M106.3 242.4h0M106.6 232.7h0M108.9 231.4h0M110.9 239.1h0M109.9 227.5h0M110.5 241.1h0M109.5 241.5h0M74.8 237.2h0M75.2 241.3h0M74.7 236.3h0M60.5 242.7h0M60.5 241.7h0M59.8 232.5h0M73.3 225.8h0M73.9 230.8h0M74.0 238.7h0M74.9 232.1h0M73.4 236.1h0M101.2 236.8h0M78.1 242.0h0M78.1 233.8h0M78.3 226.4h0M70.5 233.2h0M68.4 238.1h0M87.8 240.2h0M89.3 239.7h0M88.5 241.9h0M89.2 234.9h0M88.5 239.2h0M89.6 242.7h0M88.7 238.8h0M98.0 238.0h0M96.2 225.9h0M97.7 240.5h0M96.0 234.9h0M98.3 234.8h0M97.1 241.3h0M97.4 242.3h0M97.8 242.0h0M81.7 232.4h0M80.8 226.3h0M81.7 237.0h0M82.2 227.5h0M65.6 236.4h0M65.3 226.5h0M65.6 241.5h0M63.7 230.8h0M100.8 233.5h0M67.6 241.9h0M69.4 242.3h0M100.9 242.8h0M102.0 231.4h0M102.3 238.6h0M101.4 235.8h0M101.8 237.5h0M102.2 238.9h0M100.9 240.7h0M101.8 241.1h0M102.5 241.6h0M100.5 237.5h0M101.6 239.9h0M102.8 235.4h0M100.9 241.0h0M107.6 242.1h0M107.3 239.0h0M106.5 239.7h0M108.3 231.7h0M108.0 241.0h0M108.0 241.3h0M107.5 238.9h0M108.2 231.6h0M107.2 235.0h0M107.8 240.4h0M107.9 239.0h0M108.5 242.6h0M108.2 233.9h0M108.4 234.9h0M87.8 237.1h0M88.3 239.1h0M86.3 231.0h0M87.3 239.6h0M86.3 239.4h0M88.0 236.7h0M87.7 228.3h0M98.6 240.8h0M64.9 237.1h0M64.9 243.0h0M101.5 241.5h0M100.2 235.5h0M81.5 229.7h0M80.3 236.9h0M81.2 227.9h0M81.8 241.0h0M81.8 240.5h0M95.5 242.6h0M116.0 233.9h0M114.6 232.9h0M116.3 239.3h0M115.8 235.9h0M115.6 234.1h0M115.1 227.8h0M72.1 242.0h0M73.3 240.2h0M72.0 225.3h0M74.6 236.8h0M74.0 235.7h0M72.5 241.7h0M73.3 233.7h0M72.1 240.3h0M95.1 240.7h0M96.6 232.0h0M96.3 239.6h0M96.5 235.1h0M97.3 241.3h0M96.7 241.7h0M96.0 232.8h0M97.4 236.1h0M84.2 240.0h0M84.6 238.4h0M83.8 242.0h0M84.5 240.0h0M84.2 236.6h0M83.2 237.2h0M84.4 235.8h0M84.1 236.2h0M83.5 232.8h0M84.0 237.4h0M124.8 237.4h0M126.0 242.2h0M130.5 241.7h0M129.3 241.8h0M123.6 242.3h0M123.0 239.7h0M122.6 238.6h0M124.4 237.5h0M124.2 229.5h0M124.9 234.6h0M123.8 234.5h0M123.8 237.7h0M123.6 237.6h0M123.8 234.2h0M123.8 235.3h0M124.6 242.5h0M124.2 240.1h0M128.9 238.7h0M128.9 237.5h0M124.0 242.9h0M123.5 243.0h0M125.7 235.1h0M127.0 242.0h0M125.9 229.1h0M125.8 241.3h0M126.8 242.0h0M126.8 230.7h0M126.9 228.7h0M126.9 237.1h0M132.5 241.1h0M132.0 236.8h0M132.8 232.8h0M132.8 242.5h0M132.3 238.2h0M144.2 240.7h0M143.6 237.6h0M144.3 242.5h0M144.5 241.6h0M144.4 236.0h0M142.4 239.7h0M146.2 234.7h0M148.2 238.9h0M147.5 242.1h0M147.4 235.8h0M145.6 238.7h0M145.3 237.9h0M145.2 234.0h0M145.4 242.6h0M145.0 240.4h0M145.2 241.0h0M146.2 237.9h0M146.8 229.7h0M144.8 241.8h0M147.7 242.3h0M144.7 236.5h0M145.7 240.8h0M145.0 242.8h0M145.5 238.2h0M147.0 234.1h0M146.0 237.4h0M145.9 237.2h0M149.0 240.4h0M148.7 227.9h0M148.4 235.3h0M146.9 241.5h0M148.6 230.0h0M152.6 234.3h0M151.6 237.2h0M150.8 242.1h0M150.0 228.6h0M151.4 239.2h0M151.3 238.3h0M151.0 242.3h0M151.5 234.4h0M145.4 239.9h0M140.3 241.5h0M140.3 240.8h0M152.3 239.7h0M152.8 235.2h0M152.2 233.5h0M152.9 238.7h0M153.6 231.4h0M141.1 239.7h0M153.2 239.9h0M152.6 241.0h0M152.9 241.1h0M153.2 240.3h0M184.7 236.3h0M172.2 236.1h0M171.6 242.4h0M172.2 241.3h0M172.4 239.7h0M176.4 233.7h0M175.8 237.3h0M176.2 236.5h0M170.4 239.6h0M170.7 236.5h0M163.3 230.2h0M162.8 242.8h0M163.6 235.0h0M163.6 240.1h0M167.1 240.6h0M166.2 241.8h0M162.1 238.8h0M161.0 229.6h0M182.6 227.9h0M184.1 231.7h0M184.1 239.1h0M185.7 240.9h0M184.3 241.5h0M183.0 230.8h0M184.8 241.2h0M179.6 242.0h0M178.0 233.4h0M179.6 241.0h0M179.3 238.4h0M178.4 242.5h0M179.3 239.0h0M178.5 242.1h0M178.8 237.7h0M178.6 239.7h0M178.9 235.3h0M178.4 234.4h0M178.5 241.6h0M177.8 241.1h0M176.3 236.7h0M178.3 233.5h0M174.9 226.8h0M176.7 240.9h0M175.8 237.7h0M176.5 237.6h0M174.8 238.8h0M186.0 238.7h0M184.2 241.4h0M178.2 242.8h0M188.7 237.3h0M189.3 234.9h0M177.3 239.1h0M160.2 241.0h0M160.1 238.2h0M160.4 242.2h0M171.7 237.9h0M171.8 237.8h0M180.6 242.5h0M181.2 238.0h0M188.3 240.1h0M189.1 242.4h0M187.9 228.5h0M188.0 228.7h0M188.3 229.5h0M186.8 237.6h0M177.9 241.6h0M179.0 238.1h0M177.7 222.8h0M177.8 242.7h0M178.4 240.8h0M161.3 242.8h0M162.6 235.3h0M184.6 241.1h0M183.5 239.2h0M183.7 236.4h0M173.2 240.6h0M173.8 238.0h0M174.0 238.3h0M173.9 223.8h0M160.2 225.9h0M170.2 240.4h0M172.4 242.5h0M170.5 241.5h0M170.1 225.2h0M173.3 235.5h0M171.5 240.0h0M173.5 238.5h0M170.9 235.2h0M170.6 226.4h0M170.9 241.5h0M172.2 241.8h0M171.5 242.2h0M172.4 237.5h0M170.4 237.0h0M175.7 237.8h0M176.2 239.1h0M176.4 223.2h0M164.7 241.1h0M165.5 241.6h0M164.3 237.2h0M178.4 240.4h0M176.8 240.7h0M178.3 236.5h0M176.0 236.8h0M167.1 241.7h0M168.8 238.1h0M169.4 242.9h0M170.2 242.7h0M168.5 236.7h0M167.7 242.3h0M168.7 239.7h0M167.0 230.8h0M168.4 242.4h0M167.5 232.6h0M167.8 240.7h0M169.9 231.0h0M170.3 242.9h0M170.8 242.3h0M168.9 242.5h0M171.4 229.3h0M180.6 232.5h0M180.2 235.3h0M162.8 242.8h0M162.1 227.6h0M157.7 236.6h0M158.3 241.0h0M183.1 239.1h0M182.1 235.8h0M185.7 225.0h0M186.2 233.6h0M187.1 236.7h0M184.9 224.6h0M165.4 224.6h0M165.4 238.1h0M163.7 242.9h0M166.6 238.2h0M165.4 237.6h0M164.0 241.2h0M165.3 241.7h0M165.0 238.4h0M164.5 241.8h0M164.0 233.3h0M165.1 242.0h0M177.0 241.2h0M175.9 241.3h0M177.5 238.3h0M175.7 237.5h0M176.4 232.1h0M175.3 233.4h0M172.6 234.5h0M174.2 225.8h0M176.5 235.9h0M177.7 235.8h0M183.8 238.4h0M175.4 238.5h0M174.7 233.3h0M174.9 239.3h0M175.3 234.7h0M173.2 229.1h0M165.9 235.9h0M159.5 230.5h0M178.7 230.9h0M180.7 222.3h0M180.9 239.2h0M181.0 227.8h0M179.0 238.9h0M179.4 231.1h0M180.2 239.5h0M180.8 226.0h0M181.1 241.9h0M179.8 238.3h0M180.8 237.8h0M181.5 242.8h0M180.4 234.6h0M180.1 240.1h0M178.0 239.5h0M177.4 238.6h0M178.3 239.7h0M176.1 228.8h0M205.8 236.0h0M207.4 240.5h0M208.3 237.6h0M207.6 242.9h0M216.9 242.1h0M216.4 237.4h0M204.7 240.1h0M205.1 242.9h0M209.1 240.3h0M210.2 239.2h0M200.3 236.2h0M214.5 236.1h0M215.9 238.9h0M215.6 235.7h0M215.6 237.4h0M214.9 239.5h0M215.0 238.3h0M216.0 242.0h0M215.2 237.5h0M216.0 237.8h0M217.4 237.9h0M215.9 240.0h0M196.1 236.8h0M195.2 241.5h0M195.8 242.4h0M225.0 241.6h0M232.2 240.7h0M232.4 241.8h0M237.9 238.9h0M238.7 239.3h0M236.1 240.7h0M237.0 236.7h0M236.1 240.0h0M237.1 238.7h0M236.2 242.9h0M236.7 237.9h0M236.3 233.8h0M236.9 239.6h0M236.4 241.1h0M237.5 236.9h0M236.6 240.0h0M241.9 240.8h0M241.5 233.9h0M242.0 235.2h0M239.3 239.5h0M242.2 242.7h0M241.5 241.2h0M240.5 239.0h0M242.6 236.8h0M235.9 238.6h0M232.7 232.6h0M232.6 242.6h0M233.3 233.2h0M236.1 235.7h0M236.6 239.2h0M236.4 239.3h0M236.6 230.8h0M237.9 239.0h0M235.6 240.1h0M236.4 239.2h0M237.3 241.3h0M242.3 241.0h0M243.3 242.0h0M243.6 239.6h0M243.7 239.1h0M244.6 240.4h0M244.2 240.4h0M243.9 238.9h0M247.4 240.0h0M246.3 243.0h0M246.5 233.4h0M246.2 235.7h0M249.1 236.5h0M249.9 238.4h0M250.2 240.5h0M249.4 235.5h0M248.1 241.3h0M248.8 240.6h0M249.3 242.6h0M249.4 240.4h0M249.2 237.4h0M244.5 241.1h0M244.6 233.5h0M245.1 240.1h0M246.6 240.2h0M255.3 241.7h0M254.7 242.3h0M255.1 242.7h0M256.4 238.2h0M259.4 236.1h0M260.0 234.8h0M260.2 241.8h0M261.2 239.9h0M260.2 241.2h0M256.2 242.8h0M256.7 239.5h0M256.1 240.4h0M256.7 242.6h0M257.1 238.4h0M252.5 236.7h0M253.6 240.1h0M259.2 241.6h0M258.9 234.9h0M262.3 240.0h0M259.9 240.2h0M262.1 237.0h0M260.7 240.3h0M262.8 242.6h0M262.3 240.2h0M261.4 237.4h0M262.5 241.7h0M262.3 235.2h0M262.5 240.4h0M261.5 239.2h0M266.0 241.4h0M269.1 238.8h0M267.5 235.1h0M267.3 242.9h0M266.3 242.1h0M267.6 242.4h0M265.0 235.2h0M264.4 241.9h0M265.2 235.1h0M265.8 240.9h0M265.6 235.4h0M265.9 236.6h0M267.9 237.9h0M267.3 236.3h0M267.0 240.2h0M266.7 237.2h0M271.0 233.6h0M271.5 235.6h0M271.6 236.0h0M271.5 237.4h0M271.2 241.8h0M272.0 235.7h0M272.0 239.2h0M272.1 237.5h0M271.4 239.5h0M272.3 242.3h0M275.1 236.5h0M275.6 242.6h0M276.6 240.6h0M276.9 240.1h0M277.0 240.1h0M275.2 234.9h0M276.6 239.6h0M277.3 241.4h0M277.0 235.9h0M276.0 239.7h0M275.9 232.9h0M276.5 242.2h0M276.1 240.3h0M276.0 237.3h0M276.0 240.8h0M277.3 239.3h0M283.8 236.9h0M283.6 241.7h0M282.4 241.1h0M286.6 239.8h0M288.3 241.3h0M287.3 239.0h0M289.4 241.1h0M288.0 233.3h0M288.7 238.4h0M283.1 241.0h0M282.1 238.7h0M282.1 237.2h0M288.5 239.4h0M283.3 242.9h0M282.6 239.4h0M283.6 242.4h0M283.2 240.3h0M283.8 236.4h0M283.8 241.3h0M304.7 238.6h0M295.9 241.2h0M296.8 238.6h0M296.8 240.9h0M296.5 242.0h0M300.3 227.3h0M303.5 242.4h0M302.6 234.5h0M303.7 231.4h0M302.2 231.2h0M302.9 240.3h0M302.1 240.3h0M303.3 235.7h0M297.6 240.0h0M296.3 239.8h0M295.8 240.0h0M295.4 237.9h0M298.0 242.9h0M293.4 238.9h0M302.9 237.7h0M302.4 237.7h0M302.0 235.1h0M302.9 238.1h0M302.9 240.2h0M303.4 228.6h0M303.1 242.7h0M302.1 233.6h0M303.7 232.1h0M303.3 242.0h0M303.0 237.8h0M302.2 239.5h0M303.4 228.5h0M303.4 233.4h0M302.7 232.5h0M302.4 242.7h0M302.6 241.6h0M302.7 238.2h0M303.5 234.0h0M302.4 232.5h0M303.8 242.6h0M303.8 240.7h0M322.7 236.9h0M322.6 237.2h0M322.4 232.4h0M323.2 236.7h0M323.1 239.6h0M323.4 240.7h0M322.9 241.9h0M322.3 235.2h0M323.0 235.0h0M311.3 239.1h0M315.8 241.4h0M317.4 229.7h0M317.3 242.9h0M315.8 241.2h0M317.5 236.5h0M318.3 241.1h0M316.2 235.5h0M318.0 239.0h0M313.8 235.0h0M314.8 236.3h0M314.8 237.9h0M312.8 239.9h0M315.3 241.4h0M315.2 236.2h0M315.1 240.9h0M318.8 240.7h0M318.8 241.8h0M317.0 239.6h0M321.8 241.5h0M321.4 234.4h0M322.5 235.6h0M321.4 239.6h0M321.2 235.0h0M320.9 231.7h0M321.5 242.7h0M320.9 240.0h0M76.0 194.5h0M97.5 203.3h0M85.8 207.2h0M86.2 208.2h0M73.1 210.9h0M76.0 213.8h0M76.0 217.4h0M69.0 216.4h0M101.9 215.5h0M114.0 214.5h0M114.7 217.4h0M110.8 218.9h0M83.3 218.9h0M91.3 221.8h0M106.7 221.8h0M65.8 223.3h0M60.0 226.9h0M141.3 217.4h0M147.6 219.3h0M137.3 222.6h0M132.2 225.9h0M151.2 223.3h0M192.3 209.0h0M189.4 212.3h0M188.6 216.0h0M198.9 214.1h0M167.2 213.4h0M163.1 217.0h0M175.9 216.4h0M168.2 218.2h0M183.5 223.3h0M160.2 223.3h0M190.8 224.3h0M199.9 225.5h0M208.4 226.2h0M199.9 229.1h0M209.8 231.0h0M217.1 232.5h0M223.0 233.8h0M228.4 237.4h0M220.8 241.1h0M217.1 218.6h0M221.8 217.0h0M229.2 225.2h0M141.9 217.0h0M147.3 219.2h0M152.1 221.1h0M150.0 223.7h0M233.9 228.4h0M238.3 228.4h0M294.1 167.4h0M297.0 168.8h0M297.0 174.3h0M282.3 182.2h0M293.1 188.1h0M296.1 188.5h0M286.2 191.6h0M282.3 194.0h0M299.0 195.9h0M289.2 197.9h0M291.7 197.9h0M254.1 204.8h0M264.9 202.8h0M264.9 210.7h0M269.5 212.7h0M287.2 204.8h0M285.6 207.8h0M286.2 210.7h0M291.1 208.7h0M300.0 206.8h0M300.0 210.7h0M303.9 212.7h0M293.1 214.6h0M297.0 216.6h0M300.0 218.6h0M301.0 222.5h0M282.3 220.2h0M286.2 222.5h0M281.3 226.5h0M291.1 224.5h0M315.7 220.2h0M322.0 224.9h0M247.8 220.2h0M254.7 222.1h0M253.7 224.5h0M229.5 225.1h0M247.8 224.5h0M269.9 226.5h0M273.4 227.8h0M247.8 228.4h0M247.8 232.4h0M298.0 222.5h0M299.0 226.5h0M302.9 228.4h0M293.7 51.3h0"/>
<line x1="58.4" x2="323.7" y1="154.50" y2="154.50" stroke="#000" stroke-width="1.4" stroke-dasharray="4.1 5.53"/>
<line x1="290.5" x2="290.5" y1="35.9" y2="243.5" stroke="#ff5560" stroke-width="1.1" stroke-dasharray="4.3 5.39"/>
<path class="ax" style="stroke:#000;stroke-width:1.2" d="M47.7 32.5V243.6M43.1 243.0H47.7M43.1 226.8H47.7M43.1 210.7H47.7M43.1 194.6H47.7M43.1 178.4H47.7M43.1 162.2H47.7M43.1 146.1H47.7M43.1 130.0H47.7M43.1 113.8H47.7M43.1 97.7H47.7M43.1 81.5H47.7M43.1 65.4H47.7M43.1 49.2H47.7M43.1 33.1H47.7"/>
<text class="yl" x="39" y="246.0">0</text>
<text class="yl" x="39" y="229.8">1</text>
<text class="yl" x="39" y="213.7">2</text>
<text class="yl" x="39" y="197.6">3</text>
<text class="yl" x="39" y="181.4">4</text>
<text class="yl" x="39" y="165.2">5</text>
<text class="yl" x="39" y="149.1">6</text>
<text class="yl" x="39" y="133.0">7</text>
<text class="yl" x="39" y="116.8">8</text>
<text class="yl" x="39" y="100.7">9</text>
<text class="yl" x="39" y="84.5">10</text>
<text class="yl" x="39" y="68.4">11</text>
<text class="yl" x="39" y="52.2">12</text>
<text class="yl" x="39" y="36.1">13</text>
<path class="ax" style="stroke:#000;stroke-width:1.2" d="M57.7 251.5H324.0M58.3 251.5V256.4M76.0 251.5V256.4M93.7 251.5V256.4M111.3 251.5V256.4M129.0 251.5V256.4M146.7 251.5V256.4M164.4 251.5V256.4M182.0 251.5V256.4M199.7 251.5V256.4M217.4 251.5V256.4M235.1 251.5V256.4M252.7 251.5V256.4M270.4 251.5V256.4M288.1 251.5V256.4M305.8 251.5V256.4M323.4 251.5V256.4"/>
<text class="xl" x="58.3" y="273.5">0</text>
<text class="xl" x="93.7" y="273.5">5</text>
<text class="xl" x="129.0" y="273.5">10</text>
<text class="xl" x="164.4" y="273.5">15</text>
<text class="xl" x="199.7" y="273.5">20</text>
<text class="xl" x="235.1" y="273.5">25</text>
<text class="xl" x="270.4" y="273.5">30</text>
<text class="xl" x="305.8" y="273.5">35</text>
<text class="al" x="191" y="295.6">Position (Mb)</text>
<text class="al" style="font-size:14.6px" transform="translate(10.1,138.2) rotate(-90)">-log<tspan font-size="9.4" dy="2.2">10</tspan><tspan dy="-2.2">(P)</tspan></text>
</g>
<g transform="translate(0.0,309.8)">
<text class="t" x="191" y="12">2/0.2 (1156 SNPs)</text>
<path class="pt" d="M98.6 241.7h0M88.8 236.0h0M89.4 240.3h0M89.7 239.4h0M89.6 240.9h0M86.2 242.8h0M85.7 234.3h0M85.3 235.9h0M85.2 239.0h0M84.3 239.9h0M85.4 238.5h0M85.5 232.2h0M85.5 240.0h0M85.6 242.3h0M86.4 235.7h0M86.0 230.1h0M86.3 242.2h0M84.7 232.3h0M100.2 239.7h0M101.7 234.1h0M101.6 232.2h0M101.0 239.6h0M102.5 238.9h0M59.7 240.0h0M59.4 243.0h0M59.7 230.0h0M59.0 238.6h0M59.5 237.8h0M93.3 240.4h0M93.9 237.1h0M91.8 234.0h0M93.2 239.0h0M62.0 231.5h0M62.9 242.8h0M63.8 240.5h0M62.9 242.2h0M62.4 238.8h0M61.9 242.4h0M61.6 242.8h0M61.4 234.5h0M62.3 238.3h0M61.8 239.3h0M61.2 241.0h0M62.0 239.6h0M63.2 241.9h0M61.5 242.5h0M110.2 239.6h0M109.9 242.8h0M109.0 240.0h0M60.8 240.8h0M115.9 230.8h0M115.5 240.6h0M114.2 230.4h0M113.4 232.8h0M79.1 237.8h0M64.9 235.8h0M66.4 235.2h0M65.2 240.0h0M65.2 238.8h0M64.9 242.6h0M65.3 240.2h0M65.7 241.6h0M65.7 241.7h0M63.6 239.2h0M64.3 239.8h0M65.4 242.8h0M65.7 237.4h0M65.9 233.2h0M65.8 239.2h0M101.1 237.8h0M100.3 228.9h0M98.0 239.1h0M97.7 238.4h0M97.4 229.2h0M97.1 233.4h0M97.6 242.4h0M97.2 238.0h0M97.5 234.2h0M97.9 241.8h0M93.8 239.5h0M94.2 241.3h0M94.3 239.6h0M94.6 242.6h0M95.3 240.0h0M92.7 237.1h0M92.3 239.9h0M91.7 241.9h0M92.3 233.2h0M73.7 229.3h0M72.3 238.1h0M73.1 242.0h0M111.8 240.0h0M112.2 241.7h0M111.8 238.1h0M111.8 235.6h0M111.1 239.8h0M111.4 241.3h0M111.3 230.2h0M111.4 237.5h0M112.1 235.7h0M102.4 233.3h0M100.8 240.1h0M102.5 236.9h0M100.9 242.2h0M101.3 240.2h0M103.4 242.4h0M102.4 242.7h0M110.8 241.1h0M111.6 239.3h0M111.3 238.2h0M112.2 242.4h0M112.6 231.9h0M111.1 242.8h0M111.4 238.1h0M68.8 237.4h0M69.8 230.0h0M70.3 228.6h0M70.3 236.4h0M68.5 230.0h0M81.2 232.9h0M118.3 235.3h0M117.3 239.1h0M116.6 234.2h0M116.0 234.9h0M114.9 230.0h0M115.4 242.8h0M94.3 241.8h0M93.8 233.8h0M93.8 236.0h0M75.3 237.6h0M74.5 235.5h0M77.6 235.6h0M76.4 233.5h0M83.3 230.4h0M106.9 231.1h0M107.8 239.3h0M107.2 235.0h0M106.4 236.1h0M105.1 239.4h0M105.1 234.2h0M104.2 242.0h0M105.8 236.8h0M105.0 236.3h0M104.6 229.5h0M104.9 231.3h0M105.7 234.4h0M104.8 241.5h0M106.4 241.4h0M93.3 233.0h0M85.1 243.0h0M96.6 238.8h0M97.2 241.2h0M96.1 235.3h0M97.2 238.0h0M76.8 242.7h0M77.7 242.6h0M80.6 232.1h0M80.6 239.7h0M80.2 240.5h0M80.8 239.8h0M79.3 242.0h0M80.5 242.7h0M80.5 239.6h0M81.6 240.6h0M81.4 236.1h0M81.7 238.4h0M79.7 239.8h0M81.2 241.6h0M81.1 236.0h0M88.6 240.5h0M88.8 235.3h0M88.9 238.0h0M83.2 235.8h0M81.9 233.6h0M83.9 241.8h0M81.9 242.2h0M81.1 238.2h0M81.8 238.7h0M82.9 240.2h0M66.9 236.1h0M67.8 240.4h0M66.8 235.2h0M66.3 238.2h0M68.0 239.7h0M110.5 240.1h0M107.9 240.8h0M107.0 241.1h0M106.9 240.8h0M106.5 242.1h0M113.1 242.9h0M113.1 238.4h0M69.3 231.7h0M69.2 241.7h0M70.3 236.9h0M116.1 232.4h0M83.9 242.0h0M86.0 235.1h0M83.6 232.0h0M83.8 239.3h0M82.9 237.3h0M83.9 240.9h0M108.5 231.9h0M107.8 240.3h0M109.7 237.8h0M108.1 242.1h0M107.9 237.7h0M108.2 240.6h0M108.8 237.7h0M109.3 240.0h0M109.1 241.8h0M107.7 229.9h0M108.0 236.2h0M109.5 235.9h0M108.8 238.4h0M62.1 241.8h0M61.5 239.2h0M61.6 242.6h0M61.0 241.9h0M61.9 243.0h0M60.8 242.7h0M62.4 240.4h0M61.9 239.3h0M61.1 240.7h0M61.5 231.7h0M61.8 238.8h0M62.7 237.1h0M61.3 232.1h0M62.7 242.9h0M100.4 237.8h0M110.1 240.0h0M110.5 235.1h0M109.6 230.8h0M109.3 235.2h0M111.3 233.2h0M108.6 240.4h0M110.7 233.5h0M83.5 234.3h0M84.8 239.2h0M84.7 242.1h0M66.0 239.7h0M66.5 235.8h0M67.3 242.6h0M83.1 241.1h0M71.1 242.6h0M69.4 238.4h0M71.1 230.5h0M70.7 239.4h0M82.6 230.7h0M82.0 239.9h0M83.8 240.3h0M82.4 237.2h0M66.1 232.5h0M65.8 235.4h0M65.8 233.8h0M66.0 239.0h0M64.7 242.1h0M65.3 240.7h0M66.0 238.7h0M86.8 234.3h0M109.1 232.0h0M110.1 232.0h0M88.6 241.8h0M90.0 235.6h0M87.8 237.5h0M68.8 238.0h0M94.6 232.6h0M94.6 237.6h0M94.1 230.7h0M94.6 235.6h0M93.9 242.1h0M94.6 240.3h0M93.9 229.6h0M95.2 231.7h0M93.9 241.7h0M93.5 231.5h0M113.7 241.7h0M114.6 236.3h0M114.1 241.2h0M114.9 243.0h0M113.5 229.9h0M113.4 241.5h0M114.9 241.7h0M114.7 242.4h0M113.8 241.3h0M115.0 242.0h0M113.7 238.6h0M113.0 240.9h0M114.2 242.3h0M61.1 231.0h0M60.0 239.6h0M59.6 242.8h0M60.4 241.5h0M60.1 240.8h0M60.5 240.0h0M61.6 236.8h0M60.4 240.8h0M61.9 238.7h0M60.0 231.5h0M60.5 234.4h0M60.9 242.6h0M60.2 230.2h0M93.9 242.2h0M94.5 232.2h0M93.3 237.8h0M94.3 228.5h0M93.6 239.2h0M94.2 230.3h0M94.7 232.2h0M93.2 242.1h0M93.3 242.5h0M94.0 232.3h0M94.3 237.8h0M93.7 233.1h0M88.8 241.7h0M90.4 235.3h0M89.2 241.8h0M88.7 241.8h0M89.3 237.2h0M89.5 239.4h0M88.4 239.9h0M88.5 241.1h0M96.6 234.0h0M96.8 239.9h0M77.3 241.4h0M98.0 233.8h0M98.0 241.9h0M97.8 233.4h0M98.3 237.7h0M98.8 228.6h0M99.1 240.5h0M97.7 241.7h0M99.4 242.1h0M98.7 234.0h0M100.1 237.3h0M85.3 242.8h0M85.6 241.6h0M71.8 233.0h0M72.0 239.9h0M72.1 241.2h0M71.1 243.0h0M70.0 239.0h0M71.0 240.4h0M72.0 233.9h0M71.7 242.9h0M97.1 238.7h0M96.7 233.7h0M98.2 239.1h0M98.0 243.0h0M97.7 241.8h0M97.5 238.0h0M64.6 231.1h0M65.8 235.9h0M66.3 240.9h0M64.3 242.3h0M66.5 236.8h0M64.5 233.0h0M64.4 231.9h0M65.3 240.9h0M65.3 240.3h0M65.3 236.8h0M65.0 240.1h0M64.2 233.6h0M87.6 242.4h0M74.3 233.5h0M74.4 240.9h0M68.0 242.4h0M67.5 237.0h0M69.1 228.5h0M68.2 237.6h0M67.9 239.7h0M68.1 233.6h0M68.0 241.5h0M70.1 235.7h0M68.9 240.9h0M68.8 238.3h0M68.3 236.7h0M69.4 241.0h0M68.4 241.4h0M67.6 239.4h0M66.1 239.3h0M66.1 240.2h0M65.6 241.6h0M67.4 234.0h0M66.4 228.7h0M67.1 232.7h0M66.2 239.6h0M65.4 235.8h0M65.9 242.8h0M66.1 242.1h0M67.3 234.9h0M73.5 239.2h0M72.6 238.4h0M73.3 233.3h0M112.7 233.8h0M112.5 241.4h0M112.2 240.1h0M111.7 235.8h0M111.3 230.5h0M113.0 235.2h0M112.7 239.9h0M64.3 239.5h0M64.3 234.2h0M64.0 242.9h0M65.3 236.2h0M91.6 237.5h0M91.0 235.9h0M91.9 241.2h0M101.9 237.4h0M100.3 233.8h0M99.7 241.4h0M101.3 235.8h0M81.3 240.1h0M82.1 243.0h0M122.2 241.4h0M122.4 236.7h0M122.6 230.6h0M122.6 239.4h0M133.2 241.5h0M123.8 240.6h0M123.3 238.8h0M123.0 241.2h0M123.9 236.0h0M123.3 242.1h0M124.3 237.1h0M123.2 235.0h0M122.1 236.3h0M124.2 242.5h0M123.5 230.0h0M123.9 232.3h0M123.0 234.1h0M122.0 234.2h0M122.0 236.8h0M122.8 238.6h0M121.8 239.5h0M126.7 242.6h0M126.2 231.0h0M128.3 240.2h0M126.9 239.9h0M127.6 231.5h0M127.7 238.7h0M127.6 240.4h0M132.6 236.1h0M133.1 233.4h0M133.3 239.9h0M132.6 232.1h0M132.4 234.1h0M131.6 233.4h0M134.2 242.7h0M131.7 239.8h0M132.5 242.6h0M130.9 239.5h0M131.4 236.8h0M131.8 240.2h0M131.3 239.6h0M132.1 242.7h0M132.7 240.3h0M131.8 232.3h0M126.9 241.7h0M125.6 239.0h0M125.0 238.5h0M125.8 237.8h0M126.0 232.5h0M126.0 242.8h0M126.1 229.4h0M126.2 238.5h0M127.0 240.5h0M124.7 241.9h0M126.1 238.9h0M125.6 235.6h0M142.8 242.9h0M142.9 238.2h0M143.8 239.3h0M149.4 241.6h0M148.4 243.0h0M148.8 230.9h0M142.5 239.6h0M142.8 239.4h0M142.6 238.4h0M142.1 238.0h0M141.7 242.5h0M142.5 240.5h0M140.8 240.6h0M142.0 231.0h0M143.2 239.8h0M146.3 242.9h0M145.3 242.9h0M146.4 237.5h0M146.6 237.7h0M146.6 238.9h0M146.2 241.6h0M139.9 241.6h0M139.7 237.5h0M140.6 239.6h0M149.8 236.1h0M149.9 242.5h0M150.2 238.9h0M142.1 239.8h0M143.2 241.9h0M152.2 231.6h0M153.0 241.3h0M153.7 231.3h0M154.1 240.2h0M153.1 240.4h0M153.7 242.6h0M153.2 236.9h0M151.2 236.7h0M150.8 241.1h0M151.7 238.8h0M150.3 239.7h0M152.5 240.0h0M151.8 234.3h0M151.8 237.1h0M146.9 237.9h0M147.5 239.0h0M147.2 234.3h0M148.0 241.4h0M148.8 241.5h0M149.4 235.9h0M140.2 236.6h0M139.4 240.0h0M138.6 242.6h0M140.4 241.4h0M140.0 242.4h0M139.5 239.2h0M140.4 238.3h0M140.1 232.7h0M140.7 241.8h0M175.9 237.9h0M177.1 240.6h0M176.7 240.7h0M176.5 239.3h0M176.4 243.0h0M176.0 227.2h0M174.9 238.5h0M175.9 236.7h0M176.3 241.6h0M176.1 240.1h0M176.6 227.6h0M175.9 242.3h0M168.5 240.0h0M168.3 241.7h0M167.8 231.6h0M167.4 242.4h0M176.8 237.8h0M174.8 235.8h0M175.5 232.5h0M174.7 242.1h0M175.4 232.7h0M175.8 241.6h0M175.9 240.8h0M175.0 240.9h0M174.9 240.9h0M175.9 236.1h0M174.2 230.9h0M173.9 236.3h0M174.4 241.5h0M160.2 238.2h0M160.2 232.6h0M173.9 239.0h0M174.2 227.0h0M177.7 242.4h0M179.0 229.6h0M178.3 242.4h0M179.2 242.3h0M178.1 242.5h0M178.5 233.9h0M158.8 233.6h0M158.3 238.5h0M158.5 240.1h0M159.3 235.5h0M159.2 241.1h0M159.3 233.4h0M158.6 239.9h0M159.4 234.9h0M159.5 233.6h0M159.2 236.9h0M158.6 241.9h0M158.3 225.1h0M159.7 237.9h0M157.6 236.4h0M158.5 238.2h0M157.7 236.2h0M159.4 230.1h0M158.6 233.4h0M159.9 241.3h0M175.4 228.2h0M174.7 228.9h0M175.4 241.6h0M176.0 236.3h0M174.6 228.2h0M175.6 235.5h0M174.9 239.0h0M175.3 240.4h0M176.0 240.8h0M173.8 239.6h0M174.9 237.6h0M178.2 236.7h0M178.4 234.9h0M177.3 234.0h0M178.1 233.5h0M177.3 239.1h0M177.0 239.7h0M177.9 238.3h0M180.1 242.1h0M165.5 239.0h0M166.9 232.8h0M165.4 241.0h0M165.9 225.9h0M165.6 241.3h0M166.1 240.1h0M177.6 228.3h0M177.2 242.1h0M179.7 241.7h0M179.3 242.9h0M165.4 237.4h0M167.9 242.8h0M168.5 229.7h0M170.1 241.1h0M167.4 232.7h0M175.5 233.1h0M174.9 238.9h0M176.1 229.9h0M169.2 241.3h0M170.1 234.7h0M166.4 236.4h0M165.9 242.9h0M165.7 237.0h0M165.8 236.1h0M165.1 240.4h0M164.9 239.2h0M163.5 235.0h0M164.6 239.4h0M164.6 240.1h0M165.2 234.3h0M188.3 235.8h0M187.7 237.8h0M190.4 232.5h0M190.4 239.1h0M189.9 240.8h0M189.4 230.5h0M191.1 240.1h0M190.5 231.8h0M188.7 238.1h0M188.6 242.7h0M187.9 236.9h0M190.3 242.0h0M187.8 230.4h0M187.4 239.5h0M187.1 231.4h0M194.7 239.6h0M194.4 239.1h0M194.2 240.3h0M194.4 237.0h0M180.8 240.6h0M184.1 235.1h0M183.3 238.6h0M182.8 239.3h0M183.1 234.5h0M183.5 238.5h0M183.1 242.5h0M187.5 242.3h0M187.7 242.5h0M190.8 242.5h0M189.1 237.1h0M188.5 233.7h0M190.7 243.0h0M190.0 242.0h0M189.0 242.5h0M188.4 242.0h0M188.2 239.3h0M188.6 241.5h0M189.3 232.7h0M189.2 236.6h0M189.1 241.4h0M189.7 228.4h0M186.8 233.0h0M194.0 238.8h0M192.3 237.0h0M192.1 234.4h0M193.0 242.3h0M193.9 238.6h0M187.4 240.8h0M186.6 243.0h0M186.2 239.0h0M185.1 241.3h0M182.7 241.2h0M190.9 234.8h0M193.1 241.7h0M191.5 239.5h0M192.8 234.1h0M193.1 230.3h0M191.6 240.9h0M193.5 241.4h0M214.8 238.0h0M214.3 238.1h0M215.1 242.6h0M206.7 236.4h0M203.3 238.7h0M203.2 238.9h0M218.8 239.0h0M195.5 239.9h0M196.0 241.4h0M208.7 239.9h0M200.1 235.7h0M199.4 240.1h0M204.4 236.8h0M198.6 236.7h0M198.6 241.1h0M198.9 242.7h0M196.9 242.0h0M198.3 243.0h0M215.9 239.0h0M214.7 242.8h0M215.4 238.2h0M216.1 240.1h0M214.3 236.3h0M215.1 240.9h0M214.7 236.2h0M215.3 237.5h0M214.5 237.7h0M215.1 239.6h0M214.9 238.9h0M205.8 241.5h0M205.4 236.8h0M204.4 240.4h0M205.1 242.8h0M205.8 239.9h0M205.2 242.7h0M204.3 240.0h0M204.8 237.7h0M205.2 242.5h0M200.8 241.0h0M198.9 239.9h0M199.3 240.8h0M220.9 238.0h0M221.8 238.3h0M229.6 238.7h0M230.5 241.1h0M232.8 242.8h0M232.6 241.3h0M234.7 240.5h0M234.9 232.6h0M235.7 237.6h0M233.8 241.2h0M235.5 238.3h0M234.8 241.4h0M235.0 239.6h0M236.3 242.0h0M234.4 228.4h0M234.4 227.7h0M233.4 242.3h0M232.8 237.1h0M234.8 240.6h0M233.7 231.0h0M232.9 239.5h0M232.8 230.5h0M232.9 236.2h0M233.3 242.0h0M234.4 234.0h0M234.3 229.8h0M234.4 229.8h0M234.5 232.7h0M234.4 239.9h0M243.0 242.7h0M243.8 242.1h0M243.2 234.4h0M243.2 240.4h0M243.1 237.4h0M242.7 242.7h0M243.3 243.0h0M243.2 242.8h0M243.2 231.3h0M242.7 238.5h0M243.7 241.3h0M243.0 241.5h0M242.3 233.8h0M243.6 242.3h0M243.4 236.1h0M252.5 241.6h0M251.3 239.8h0M251.6 233.1h0M252.5 234.5h0M252.7 235.6h0M252.7 241.3h0M252.1 237.5h0M251.5 242.3h0M253.6 231.0h0M252.3 241.7h0M251.5 231.9h0M252.1 242.5h0M253.2 235.3h0M252.6 242.6h0M251.9 240.1h0M249.7 238.7h0M248.1 239.2h0M251.1 235.5h0M252.0 242.7h0M251.5 242.8h0M247.9 236.0h0M249.8 240.0h0M248.0 241.4h0M247.1 242.0h0M247.7 240.4h0M248.6 240.3h0M247.9 241.2h0M248.3 237.7h0M246.8 241.9h0M249.0 242.6h0M248.1 239.1h0M247.1 242.8h0M254.8 237.9h0M255.7 242.5h0M259.5 242.9h0M259.5 241.8h0M259.7 238.7h0M259.7 235.4h0M261.6 240.4h0M259.5 236.6h0M260.1 240.5h0M255.6 239.1h0M254.7 233.5h0M257.8 237.4h0M261.3 240.8h0M262.3 242.0h0M262.5 239.6h0M261.1 232.9h0M258.1 237.9h0M258.4 238.4h0M257.0 240.6h0M257.6 239.3h0M259.1 239.3h0M259.0 241.2h0M259.1 243.0h0M258.0 234.7h0M257.2 235.5h0M259.4 240.5h0M258.3 236.1h0M258.7 241.4h0M273.4 239.9h0M271.6 242.2h0M271.1 239.9h0M271.0 234.3h0M262.3 233.7h0M263.6 242.4h0M263.5 233.5h0M269.9 241.1h0M268.6 229.7h0M271.4 236.6h0M271.9 236.4h0M271.0 241.9h0M264.3 235.6h0M263.8 239.8h0M264.4 236.4h0M263.9 241.4h0M274.9 242.7h0M273.2 239.8h0M274.9 240.9h0M273.6 237.3h0M274.3 242.8h0M273.8 242.5h0M273.5 241.9h0M275.0 238.9h0M275.0 242.7h0M274.3 232.0h0M274.8 231.3h0M274.1 236.0h0M273.9 237.5h0M274.3 240.7h0M274.5 240.9h0M274.0 238.5h0M274.2 240.7h0M273.3 242.3h0M263.7 237.5h0M272.3 233.4h0M284.2 235.9h0M285.1 238.4h0M287.9 236.3h0M287.8 239.6h0M288.4 239.9h0M281.7 232.0h0M281.2 232.2h0M277.1 239.7h0M278.1 239.7h0M278.7 230.1h0M277.8 238.5h0M278.1 242.5h0M277.2 235.6h0M278.5 234.5h0M277.4 230.3h0M278.0 240.3h0M278.1 238.2h0M279.5 241.0h0M286.6 232.9h0M288.4 232.2h0M277.5 230.2h0M277.7 229.6h0M277.4 239.3h0M283.9 234.6h0M284.8 236.9h0M285.8 241.7h0M285.0 227.7h0M285.1 239.7h0M286.6 239.7h0M284.2 241.2h0M284.7 239.6h0M286.7 242.1h0M287.5 240.4h0M288.0 240.4h0M288.4 238.7h0M288.1 237.6h0M287.5 238.4h0M287.4 236.6h0M293.0 236.2h0M292.2 242.7h0M291.9 240.7h0M293.8 241.2h0M292.2 242.7h0M293.1 241.9h0M292.9 229.6h0M292.4 242.0h0M292.3 241.9h0M291.8 242.9h0M291.2 237.5h0M290.3 233.5h0M290.0 239.7h0M289.8 241.2h0M301.1 239.0h0M300.7 240.9h0M302.2 241.5h0M302.0 240.3h0M301.0 238.4h0M301.3 232.6h0M299.5 232.4h0M298.8 235.6h0M299.6 238.4h0M299.9 233.2h0M299.4 242.6h0M299.6 236.6h0M300.7 233.7h0M300.3 234.9h0M300.4 232.6h0M298.5 236.0h0M298.7 242.0h0M299.2 231.7h0M299.7 238.9h0M299.2 240.3h0M299.0 243.0h0M297.6 239.7h0M298.3 232.4h0M297.8 242.0h0M298.4 242.3h0M298.6 232.0h0M309.6 242.5h0M310.3 237.9h0M309.7 240.6h0M308.9 233.7h0M310.1 242.1h0M309.5 240.7h0M310.5 242.7h0M309.4 239.2h0M310.4 238.9h0M316.9 242.0h0M318.0 231.7h0M315.8 237.8h0M316.4 242.5h0M317.9 241.6h0M313.0 242.5h0M312.7 240.7h0M314.3 241.8h0M314.7 242.4h0M312.7 242.2h0M313.5 242.0h0M320.9 231.0h0M318.0 236.9h0M318.7 238.0h0M317.7 240.1h0M319.0 238.3h0M318.1 238.9h0M318.2 242.5h0M317.7 242.5h0M318.2 240.3h0M318.0 241.8h0M317.8 231.4h0M318.3 239.6h0M318.8 233.6h0M318.3 237.9h0M319.3 230.6h0M319.5 236.8h0M319.0 237.5h0M318.5 237.2h0M318.9 230.5h0M317.4 242.7h0M318.0 242.8h0M71.9 230.1h0M73.4 240.8h0M73.9 230.7h0M66.8 232.8h0M65.1 239.7h0M72.4 234.7h0M72.1 222.9h0M68.9 239.2h0M75.9 241.7h0M67.7 232.2h0M63.8 235.1h0M63.3 239.4h0M70.1 226.0h0M63.5 235.4h0M75.4 231.3h0M69.8 237.0h0M72.4 233.5h0M64.7 231.5h0M74.2 232.3h0M66.2 225.0h0M65.8 231.4h0M71.6 225.3h0M116.4 233.5h0M110.7 232.8h0M116.7 227.8h0M113.7 238.1h0M115.6 225.8h0M111.8 223.2h0M110.4 236.2h0M117.3 232.2h0M109.6 225.9h0M114.2 231.2h0M117.1 234.8h0M110.4 235.2h0M114.7 237.6h0M112.0 223.7h0M112.2 220.4h0M116.4 231.2h0M107.7 239.6h0M104.7 238.3h0M115.4 222.8h0M109.3 228.6h0M111.6 221.4h0M110.4 223.7h0M116.3 227.4h0M113.3 224.7h0M162.7 227.8h0M173.6 228.8h0M169.0 224.0h0M178.2 240.5h0M189.9 237.5h0M183.2 239.6h0M174.7 229.6h0M165.1 231.7h0M187.3 233.3h0M167.2 224.8h0M191.5 233.0h0M166.7 223.4h0M176.1 240.8h0M159.2 240.7h0M174.2 225.5h0M192.3 235.7h0M186.6 226.2h0M161.0 242.7h0M166.0 229.1h0M161.7 232.4h0M164.7 233.7h0M173.5 235.3h0M184.6 233.8h0M161.5 242.7h0M189.0 228.4h0M163.5 227.9h0M166.5 235.3h0M194.6 242.1h0M171.1 240.4h0M160.7 235.5h0M187.0 230.7h0M169.0 221.4h0M171.8 227.9h0M163.1 241.1h0M159.8 241.8h0M158.8 233.7h0M184.4 227.4h0M184.4 227.7h0M190.7 232.9h0M191.9 233.3h0M169.8 229.4h0M163.6 239.9h0M175.9 226.0h0M170.4 228.5h0M169.5 221.5h0M286.1 239.1h0M284.4 229.0h0M281.5 223.6h0M285.9 242.8h0M283.9 232.2h0M280.4 221.7h0M282.7 227.5h0M282.6 215.2h0M288.9 232.1h0M284.0 221.6h0M289.1 238.7h0M283.1 230.9h0M289.0 232.7h0M282.3 223.8h0M284.0 210.3h0M280.8 232.9h0M285.9 216.4h0M280.3 227.9h0M280.5 226.1h0M285.7 238.2h0M286.2 214.7h0M288.4 240.5h0M288.9 225.5h0M282.5 220.3h0M281.1 242.9h0M288.4 230.3h0M285.7 217.5h0M284.8 235.7h0M284.3 215.7h0M284.2 240.3h0M286.0 239.4h0M283.3 231.1h0M287.6 233.6h0M287.3 216.0h0M281.9 225.5h0M282.0 217.7h0M287.2 215.3h0M286.1 228.2h0M283.0 227.6h0M287.2 232.5h0M288.4 223.0h0M279.0 239.4h0M299.2 217.2h0M301.1 229.3h0M295.9 231.3h0M304.8 231.1h0M303.5 225.9h0M298.9 224.1h0M301.0 233.1h0M305.0 229.7h0M303.1 222.4h0M297.5 228.4h0M299.1 214.5h0M301.1 220.2h0M299.8 229.3h0M302.5 225.4h0M300.5 238.6h0M300.2 239.0h0M300.8 222.7h0M299.6 226.4h0M299.7 226.3h0M300.0 236.4h0M301.0 228.9h0M301.3 222.8h0M301.0 232.4h0M297.1 239.3h0M299.4 223.5h0M299.1 242.7h0M303.6 242.4h0M299.3 242.0h0M86.1 202.0h0M97.4 201.3h0M96.4 207.0h0M85.8 206.7h0M83.6 208.9h0M79.9 211.5h0M76.3 214.0h0M73.4 218.1h0M69.0 210.6h0M113.8 208.2h0M113.8 213.3h0M114.2 216.9h0M110.6 217.6h0M109.1 219.8h0M91.6 215.2h0M101.8 215.2h0M132.5 211.5h0M138.8 212.2h0M141.5 217.9h0M147.1 220.3h0M150.0 225.7h0M96.7 224.5h0M102.3 222.5h0M80.9 224.5h0M85.5 225.4h0M132.5 226.4h0M137.6 224.9h0M140.5 227.9h0M67.5 221.3h0M66.1 222.0h0M70.4 223.5h0M60.9 229.3h0M123.0 230.1h0M107.7 222.8h0M111.3 222.0h0M106.9 226.4h0M112.8 225.7h0M168.0 200.1h0M192.6 214.0h0M199.1 214.7h0M199.9 216.9h0M216.9 217.9h0M221.8 223.9h0M238.1 221.0h0M168.5 216.9h0M171.4 217.6h0M176.5 218.1h0M167.7 220.6h0M188.9 220.6h0M189.6 222.8h0M183.8 224.2h0M147.3 220.3h0M141.5 218.1h0M150.9 224.5h0M153.1 226.4h0M208.6 227.1h0M208.6 229.3h0M200.6 229.3h0M222.9 233.3h0M229.1 230.1h0M234.2 227.1h0M238.5 228.6h0M216.9 234.4h0M226.1 240.7h0M221.5 241.7h0M161.9 228.6h0M169.9 221.3h0M172.1 223.5h0M167.0 224.2h0M282.2 159.1h0M295.0 160.7h0M286.1 170.6h0M297.3 170.6h0M286.1 177.8h0M296.9 177.1h0M293.0 182.8h0M282.2 191.2h0M286.1 193.6h0M292.6 189.3h0M295.4 189.3h0M296.5 193.6h0M290.0 196.1h0M322.5 187.3h0M312.3 195.8h0M298.9 200.1h0M299.9 203.4h0M254.2 204.6h0M264.8 203.4h0M283.1 205.0h0M293.0 206.0h0M289.1 208.9h0M282.2 209.9h0M301.3 209.9h0M265.4 210.5h0M267.4 211.9h0M269.4 214.5h0M255.2 216.4h0M304.4 213.9h0M299.9 214.8h0M295.0 216.2h0M283.1 214.8h0M285.1 217.8h0M237.9 221.1h0M254.0 222.3h0M276.9 220.4h0M268.8 222.7h0M316.0 225.1h0M322.5 225.1h0M233.5 227.1h0M247.7 226.7h0M253.6 225.7h0M293.5 34.2h0"/>
<line x1="58.1" x2="323.7" y1="153.70" y2="153.70" stroke="#4a4a4a" stroke-width="1.1" stroke-dasharray="4.4 5.29"/>
<line x1="290.5" x2="290.5" y1="35.9" y2="243.5" stroke="#ff0000" stroke-width="1.3" stroke-dasharray="4.5 5.19"/>
<path class="ax" d="M47.9 32.5V243.6M43.1 243.0H47.9M43.1 226.8H47.9M43.1 210.7H47.9M43.1 194.6H47.9M43.1 178.4H47.9M43.1 162.2H47.9M43.1 146.1H47.9M43.1 130.0H47.9M43.1 113.8H47.9M43.1 97.7H47.9M43.1 81.5H47.9M43.1 65.4H47.9M43.1 49.2H47.9M43.1 33.1H47.9"/>
<text class="yl" x="39" y="246.0">0</text>
<text class="yl" x="39" y="229.8">1</text>
<text class="yl" x="39" y="213.7">2</text>
<text class="yl" x="39" y="197.6">3</text>
<text class="yl" x="39" y="181.4">4</text>
<text class="yl" x="39" y="165.2">5</text>
<text class="yl" x="39" y="149.1">6</text>
<text class="yl" x="39" y="133.0">7</text>
<text class="yl" x="39" y="116.8">8</text>
<text class="yl" x="39" y="100.7">9</text>
<text class="yl" x="39" y="84.5">10</text>
<text class="yl" x="39" y="68.4">11</text>
<text class="yl" x="39" y="52.2">12</text>
<text class="yl" x="39" y="36.1">13</text>
<path class="ax" d="M57.7 251.7H324.0M58.3 251.7V256.4M76.0 251.7V256.4M93.7 251.7V256.4M111.3 251.7V256.4M129.0 251.7V256.4M146.7 251.7V256.4M164.4 251.7V256.4M182.0 251.7V256.4M199.7 251.7V256.4M217.4 251.7V256.4M235.1 251.7V256.4M252.7 251.7V256.4M270.4 251.7V256.4M288.1 251.7V256.4M305.8 251.7V256.4M323.4 251.7V256.4"/>
<text class="xl" x="58.3" y="273.5">0</text>
<text class="xl" x="93.7" y="273.5">5</text>
<text class="xl" x="129.0" y="273.5">10</text>
<text class="xl" x="164.4" y="273.5">15</text>
<text class="xl" x="199.7" y="273.5">20</text>
<text class="xl" x="235.1" y="273.5">25</text>
<text class="xl" x="270.4" y="273.5">30</text>
<text class="xl" x="305.8" y="273.5">35</text>
<text class="al" x="191" y="295.6">Position (Mb)</text>
<text class="al" style="font-size:14.6px" transform="translate(10.1,138.2) rotate(-90)">-log<tspan font-size="9.4" dy="2.2">10</tspan><tspan dy="-2.2">(P)</tspan></text>
</g>
<g transform="translate(360.8,309.8)">
<text class="t" x="191" y="12">8/0.2 (233 SNPs)</text>
<path class="pt" style="stroke-width:4.6" d="M85.5 205.7h0M101.6 212.2h0M97.5 215.5h0M109.2 216.9h0M114.7 220.3h0M85.5 218.4h0M66.1 220.6h0M141.3 217.2h0M149.7 215.2h0M140.5 221.3h0M137.3 223.5h0M107.1 225.7h0M85.1 227.1h0M87.4 230.1h0M100.5 229.3h0M100.5 231.2h0M76.0 228.3h0M78.9 228.3h0M69.9 229.0h0M59.2 230.8h0M60.7 233.3h0M69.4 231.5h0M78.9 233.0h0M74.6 234.1h0M122.4 232.0h0M132.2 232.0h0M107.4 232.2h0M111.1 234.4h0M108.9 235.2h0M96.5 235.9h0M102.3 236.6h0M68.0 235.9h0M76.7 236.6h0M85.5 237.4h0M125.4 237.4h0M132.2 238.5h0M141.4 237.6h0M151.2 233.3h0M150.5 237.4h0M60.0 238.1h0M65.1 238.1h0M70.2 240.3h0M73.1 241.7h0M79.7 239.5h0M85.5 240.3h0M90.6 240.3h0M93.5 238.8h0M97.9 239.5h0M101.6 238.8h0M105.9 237.4h0M109.6 238.8h0M113.2 238.1h0M116.2 241.0h0M117.6 242.5h0M59.2 242.5h0M62.1 242.5h0M65.8 241.7h0M79.7 242.5h0M85.5 242.5h0M89.9 242.5h0M95.0 242.0h0M99.4 242.0h0M109.6 242.0h0M129.0 242.0h0M141.4 242.0h0M145.4 241.0h0M148.3 240.3h0M147.6 242.5h0M151.2 241.7h0M168.2 215.9h0M167.9 219.8h0M168.2 223.9h0M167.9 227.1h0M167.9 230.1h0M158.0 228.6h0M159.9 230.5h0M163.1 232.7h0M166.0 234.4h0M175.9 228.2h0M189.4 228.6h0M191.6 234.4h0M208.4 226.1h0M208.6 229.3h0M208.6 231.5h0M205.4 234.4h0M216.8 232.0h0M238.3 232.0h0M232.9 234.7h0M152.1 233.3h0M151.4 235.2h0M160.2 238.1h0M168.2 237.4h0M172.6 236.6h0M177.0 237.1h0M179.2 238.1h0M184.3 240.0h0M191.6 238.1h0M192.3 240.3h0M153.6 238.8h0M152.9 241.7h0M160.2 241.7h0M167.5 241.4h0M174.0 241.7h0M177.0 242.0h0M180.6 242.0h0M184.3 242.0h0M187.9 242.0h0M199.9 241.7h0M206.5 242.8h0M214.2 241.0h0M238.7 241.3h0M241.2 241.7h0M297.4 172.5h0M295.1 181.4h0M296.4 187.3h0M291.5 195.6h0M304.5 196.5h0M315.7 212.3h0M291.1 212.9h0M287.8 216.2h0M298.6 217.8h0M291.5 221.1h0M269.5 222.7h0M269.5 226.1h0M273.4 225.7h0M302.9 224.3h0M299.0 226.7h0M302.5 226.1h0M305.9 230.6h0M268.1 233.0h0M238.0 232.0h0M233.1 234.9h0M245.3 237.5h0M255.1 237.5h0M262.0 238.5h0M266.5 239.5h0M239.0 241.4h0M248.4 242.0h0M285.2 239.5h0M285.2 242.0h0M292.1 234.5h0M293.5 235.9h0M300.0 235.5h0M291.1 241.4h0M314.2 235.1h0M316.7 237.5h0M317.7 240.8h0M315.7 242.0h0M170.4 235.9h0M174.8 238.1h0M172.6 239.5h0M177.7 239.5h0M170.4 240.3h0M166.0 238.8h0M164.6 236.6h0M149.2 238.1h0M150.7 240.3h0M147.0 241.0h0M155.1 240.3h0"/>
<line x1="58.4" x2="323.7" y1="164.70" y2="164.70" stroke="#000" stroke-width="1.4" stroke-dasharray="4.1 5.53"/>
<line x1="290.5" x2="290.5" y1="35.9" y2="243.5" stroke="#ff5560" stroke-width="1.1" stroke-dasharray="4.3 5.39"/>
<path class="ax" style="stroke:#000;stroke-width:1.2" d="M47.7 32.5V243.6M43.1 243.0H47.7M43.1 226.8H47.7M43.1 210.7H47.7M43.1 194.6H47.7M43.1 178.4H47.7M43.1 162.2H47.7M43.1 146.1H47.7M43.1 130.0H47.7M43.1 113.8H47.7M43.1 97.7H47.7M43.1 81.5H47.7M43.1 65.4H47.7M43.1 49.2H47.7M43.1 33.1H47.7"/>
<text class="yl" x="39" y="246.0">0</text>
<text class="yl" x="39" y="229.8">1</text>
<text class="yl" x="39" y="213.7">2</text>
<text class="yl" x="39" y="197.6">3</text>
<text class="yl" x="39" y="181.4">4</text>
<text class="yl" x="39" y="165.2">5</text>
<text class="yl" x="39" y="149.1">6</text>
<text class="yl" x="39" y="133.0">7</text>
<text class="yl" x="39" y="116.8">8</text>
<text class="yl" x="39" y="100.7">9</text>
<text class="yl" x="39" y="84.5">10</text>
<text class="yl" x="39" y="68.4">11</text>
<text class="yl" x="39" y="52.2">12</text>
<text class="yl" x="39" y="36.1">13</text>
<path class="ax" style="stroke:#000;stroke-width:1.2" d="M57.7 251.5H324.0M58.3 251.5V256.4M76.0 251.5V256.4M93.7 251.5V256.4M111.3 251.5V256.4M129.0 251.5V256.4M146.7 251.5V256.4M164.4 251.5V256.4M182.0 251.5V256.4M199.7 251.5V256.4M217.4 251.5V256.4M235.1 251.5V256.4M252.7 251.5V256.4M270.4 251.5V256.4M288.1 251.5V256.4M305.8 251.5V256.4M323.4 251.5V256.4"/>
<text class="xl" x="58.3" y="273.5">0</text>
<text class="xl" x="93.7" y="273.5">5</text>
<text class="xl" x="129.0" y="273.5">10</text>
<text class="xl" x="164.4" y="273.5">15</text>
<text class="xl" x="199.7" y="273.5">20</text>
<text class="xl" x="235.1" y="273.5">25</text>
<text class="xl" x="270.4" y="273.5">30</text>
<text class="xl" x="305.8" y="273.5">35</text>
<text class="al" x="191" y="295.6">Position (Mb)</text>
<text class="al" style="font-size:14.6px" transform="translate(10.1,138.2) rotate(-90)">-log<tspan font-size="9.4" dy="2.2">10</tspan><tspan dy="-2.2">(P)</tspan></text>
</g>
</svg>
</body></html>
